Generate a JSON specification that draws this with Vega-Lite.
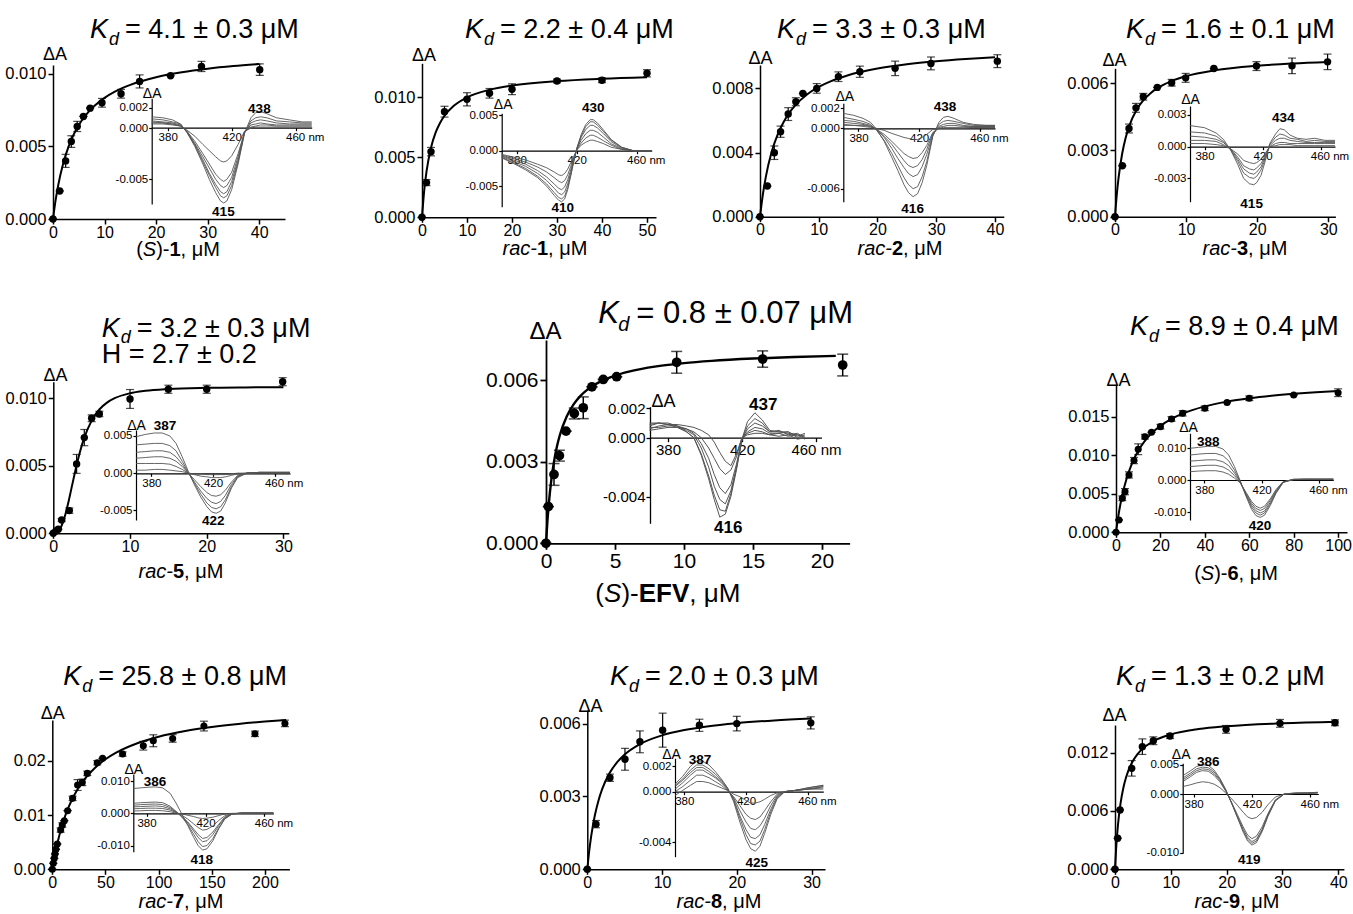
{
"$schema": "https://vega.github.io/schema/vega-lite/v6.json",
"width": 1353, "height": 914, "autosize": {"type": "none"}, "padding": 0, "background": "white",
"config": {
 "view": {"stroke": null},
 "font": "Liberation Sans",
 "text": {"color": "black"},
 "axis": {"grid": false, "domainColor": "black", "tickColor": "black", "labelColor": "black", "titleColor": "black", "titleFontWeight": "normal", "labelFlush": false, "labelOverlap": false, "labelBound": false, "titleAlign": "center", "titleBaseline": "alphabetic"},
 "locale": {"number": {"decimal": ".", "thousands": ",", "grouping": [3], "currency": ["$", ""], "minus": "-"}}
},
"datasets": {
 "c1": [{"x":0,"y":0},{"x":0.5,"y":0.001278},{"x":1,"y":0.002306},{"x":2,"y":0.003856},{"x":3,"y":0.004969},{"x":4,"y":0.005807},{"x":5,"y":0.006462},{"x":6,"y":0.006986},{"x":8,"y":0.007775},{"x":10,"y":0.00834},{"x":12,"y":0.008765},{"x":15,"y":0.009236},{"x":20,"y":0.00976},{"x":25,"y":0.010103},{"x":30,"y":0.010346},{"x":35,"y":0.010527},{"x":40,"y":0.010667}],
 "c2": [{"x":0,"y":0},{"x":0.5,"y":0.002256},{"x":1,"y":0.003806},{"x":2,"y":0.0058},{"x":3,"y":0.007027},{"x":4,"y":0.007858},{"x":5,"y":0.008458},{"x":7,"y":0.009267},{"x":10,"y":0.009984},{"x":15,"y":0.010622},{"x":20,"y":0.010973},{"x":30,"y":0.011348},{"x":40,"y":0.011545},{"x":50,"y":0.011667}],
 "c3": [{"x":0,"y":0},{"x":0.5,"y":0.001416},{"x":1,"y":0.002502},{"x":2,"y":0.004061},{"x":3,"y":0.005124},{"x":4,"y":0.005896},{"x":5,"y":0.006482},{"x":6,"y":0.006942},{"x":8,"y":0.007618},{"x":10,"y":0.00809},{"x":12,"y":0.008439},{"x":15,"y":0.00882},{"x":20,"y":0.009236},{"x":25,"y":0.009505},{"x":30,"y":0.009694},{"x":35,"y":0.009833},{"x":40,"y":0.00994}],
 "c4": [{"x":0,"y":0},{"x":0.25,"y":0.000992},{"x":0.5,"y":0.001748},{"x":1,"y":0.002823},{"x":1.5,"y":0.003552},{"x":2,"y":0.004078},{"x":3,"y":0.004787},{"x":4,"y":0.005243},{"x":5,"y":0.005561},{"x":6,"y":0.005795},{"x":8,"y":0.006117},{"x":10,"y":0.006328},{"x":14,"y":0.006587},{"x":20,"y":0.006796},{"x":25,"y":0.006898},{"x":30,"y":0.006969}],
 "c5": [{"x":0,"y":0},{"x":0.5,"y":0.000072},{"x":1,"y":0.00045},{"x":1.5,"y":0.001242},{"x":2,"y":0.00238},{"x":2.5,"y":0.00368},{"x":3,"y":0.004953},{"x":3.5,"y":0.006077},{"x":4,"y":0.007011},{"x":5,"y":0.008348},{"x":6,"y":0.009171},{"x":7,"y":0.00968},{"x":8,"y":0.010007},{"x":10,"y":0.010372},{"x":12,"y":0.010553},{"x":15,"y":0.010685},{"x":20,"y":0.010774},{"x":25,"y":0.010808},{"x":30,"y":0.010824}],
 "c6": [{"x":0,"y":0},{"x":0.1,"y":0.000794},{"x":0.2,"y":0.00143},{"x":0.4,"y":0.002383},{"x":0.6,"y":0.003064},{"x":0.8,"y":0.003575},{"x":1,"y":0.003972},{"x":1.5,"y":0.004663},{"x":2,"y":0.005107},{"x":2.5,"y":0.005417},{"x":3,"y":0.005645},{"x":4,"y":0.005958},{"x":5,"y":0.006164},{"x":6,"y":0.006309},{"x":8,"y":0.0065},{"x":10,"y":0.00662},{"x":12,"y":0.006703},{"x":15,"y":0.006788},{"x":18,"y":0.006846},{"x":21,"y":0.006888}],
 "c7": [{"x":0,"y":0},{"x":1,"y":0.002016},{"x":2,"y":0.003662},{"x":3,"y":0.005032},{"x":5,"y":0.00718},{"x":7,"y":0.008788},{"x":10,"y":0.010561},{"x":13,"y":0.011848},{"x":16,"y":0.012826},{"x":20,"y":0.013813},{"x":25,"y":0.01472},{"x":30,"y":0.015393},{"x":40,"y":0.016327},{"x":50,"y":0.016944},{"x":60,"y":0.017381},{"x":70,"y":0.017709},{"x":80,"y":0.017962},{"x":90,"y":0.018164},{"x":100,"y":0.018329}],
 "c8": [{"x":0,"y":0},{"x":2,"y":0.002214},{"x":5,"y":0.004995},{"x":10,"y":0.008595},{"x":15,"y":0.011312},{"x":20,"y":0.013437},{"x":25,"y":0.015143},{"x":30,"y":0.016543},{"x":40,"y":0.018705},{"x":50,"y":0.020297},{"x":60,"y":0.021518},{"x":80,"y":0.023266},{"x":100,"y":0.024459},{"x":125,"y":0.025506},{"x":150,"y":0.026253},{"x":175,"y":0.026816},{"x":200,"y":0.027254},{"x":220,"y":0.02754}],
 "c9": [{"x":0,"y":0},{"x":0.25,"y":0.000736},{"x":0.5,"y":0.001324},{"x":1,"y":0.002207},{"x":1.5,"y":0.002837},{"x":2,"y":0.00331},{"x":3,"y":0.003972},{"x":4,"y":0.004413},{"x":5,"y":0.004729},{"x":7,"y":0.005149},{"x":10,"y":0.005517},{"x":13,"y":0.005737},{"x":16,"y":0.005884},{"x":20,"y":0.006018},{"x":25,"y":0.00613},{"x":30,"y":0.006206}],
 "c10": [{"x":0,"y":0},{"x":0.2,"y":0.00209},{"x":0.4,"y":0.00369},{"x":0.7,"y":0.005488},{"x":1,"y":0.006817},{"x":1.5,"y":0.0084},{"x":2,"y":0.009504},{"x":3,"y":0.01094},{"x":4,"y":0.011834},{"x":5,"y":0.012445},{"x":7,"y":0.013224},{"x":10,"y":0.013877},{"x":15,"y":0.014429},{"x":20,"y":0.014723},{"x":30,"y":0.015029},{"x":40,"y":0.015186}],
 "m1": [{"x":0,"y":0,"e":0},{"x":1.3,"y":0.00193,"e":0},{"x":2.45,"y":0.004,"e":0.00045},{"x":3.55,"y":0.00533,"e":0.0004},{"x":4.7,"y":0.00637,"e":0.00035},{"x":5.9,"y":0.00706,"e":0},{"x":7.2,"y":0.00763,"e":0},{"x":9.5,"y":0.008,"e":0.0003},{"x":13.2,"y":0.00862,"e":0.0003},{"x":16.8,"y":0.00947,"e":0.00045},{"x":22.8,"y":0.00986,"e":0},{"x":28.8,"y":0.0105,"e":0.00035},{"x":40.1,"y":0.01028,"e":0.0004}],
 "m2": [{"x":0,"y":0,"e":0},{"x":1,"y":0.00289,"e":0.00025},{"x":2,"y":0.00547,"e":0.00035},{"x":5,"y":0.0088,"e":0.00045},{"x":10,"y":0.00983,"e":0.00055},{"x":15,"y":0.01033,"e":0.0004},{"x":20,"y":0.01067,"e":0.00045},{"x":30,"y":0.01136,"e":0.00015},{"x":40,"y":0.01142,"e":0.0002},{"x":50,"y":0.012,"e":0.0003}],
 "m3": [{"x":0,"y":0,"e":0},{"x":1.25,"y":0.00191,"e":0},{"x":2.44,"y":0.00399,"e":0.00042},{"x":3.5,"y":0.0053,"e":0.00035},{"x":4.8,"y":0.0064,"e":0.0004},{"x":6.1,"y":0.00717,"e":0.00025},{"x":7.3,"y":0.00769,"e":0},{"x":9.66,"y":0.008,"e":0.0003},{"x":13.35,"y":0.00873,"e":0.0003},{"x":17,"y":0.00904,"e":0.00035},{"x":23,"y":0.00925,"e":0.00045},{"x":29.1,"y":0.00956,"e":0.0004},{"x":40.4,"y":0.0097,"e":0.0004}],
 "m4": [{"x":0,"y":0,"e":0},{"x":1.03,"y":0.00229,"e":0},{"x":1.97,"y":0.00397,"e":0.0002},{"x":2.95,"y":0.0049,"e":0.0002},{"x":3.98,"y":0.0054,"e":0.00015},{"x":5.95,"y":0.00582,"e":0},{"x":7.97,"y":0.00603,"e":0.00015},{"x":9.94,"y":0.00625,"e":0.0002},{"x":13.9,"y":0.00667,"e":0},{"x":19.9,"y":0.00678,"e":0.0002},{"x":24.9,"y":0.00679,"e":0.00035},{"x":29.9,"y":0.00697,"e":0.00035}],
 "m5": [{"x":0,"y":0,"e":0},{"x":0.35,"y":0.00017,"e":0},{"x":0.65,"y":0.0003,"e":0},{"x":1.09,"y":0.00099,"e":0.0001},{"x":2.09,"y":0.00168,"e":0.0002},{"x":3.04,"y":0.00514,"e":0.0007},{"x":4.04,"y":0.00709,"e":0.0006},{"x":5,"y":0.00852,"e":0.00025},{"x":6,"y":0.00884,"e":0.0002},{"x":10,"y":0.00995,"e":0.0007},{"x":15,"y":0.01067,"e":0.0003},{"x":20,"y":0.01067,"e":0.0003},{"x":29.9,"y":0.01123,"e":0.0003}],
 "m6": [{"x":0,"y":0,"e":0},{"x":0.17,"y":0.00135,"e":0},{"x":0.58,"y":0.00253,"e":0.0004},{"x":0.97,"y":0.00322,"e":0.0002},{"x":1.45,"y":0.00412,"e":0},{"x":2.05,"y":0.00477,"e":0.0002},{"x":2.7,"y":0.00498,"e":0.0004},{"x":3.33,"y":0.00575,"e":0},{"x":4.15,"y":0.00602,"e":0},{"x":5.12,"y":0.00612,"e":0},{"x":9.47,"y":0.00665,"e":0.0004},{"x":15.7,"y":0.00677,"e":0.0003},{"x":21.5,"y":0.00655,"e":0.0004}],
 "m7": [{"x":0,"y":0,"e":0},{"x":1.35,"y":0.0016,"e":0},{"x":2.85,"y":0.00441,"e":0.0003},{"x":4.05,"y":0.00527,"e":0.0004},{"x":5.85,"y":0.00744,"e":0.0004},{"x":8.1,"y":0.0093,"e":0.0004},{"x":10,"y":0.01077,"e":0.0007},{"x":13,"y":0.0124,"e":0.0003},{"x":16,"y":0.01297,"e":0},{"x":20,"y":0.0137,"e":0.0003},{"x":25,"y":0.0147,"e":0.0003},{"x":30,"y":0.01543,"e":0.00035},{"x":40,"y":0.01608,"e":0.0003},{"x":50,"y":0.01682,"e":0},{"x":60,"y":0.01738,"e":0.0003},{"x":80,"y":0.01781,"e":0},{"x":100,"y":0.0181,"e":0.0005}],
 "m8": [{"x":0,"y":0,"e":0},{"x":0.94,"y":0.00111,"e":0},{"x":1.88,"y":0.00203,"e":0},{"x":2.5,"y":0.00283,"e":0},{"x":3.45,"y":0.00369,"e":0},{"x":4.7,"y":0.00467,"e":0},{"x":7.84,"y":0.00725,"e":0.0004},{"x":9.4,"y":0.00817,"e":0.0004},{"x":11.3,"y":0.00897,"e":0},{"x":14.4,"y":0.01082,"e":0},{"x":19.1,"y":0.01309,"e":0.0004},{"x":23.8,"y":0.01555,"e":0.001},{"x":28.2,"y":0.01604,"e":0.0006},{"x":32.9,"y":0.0177,"e":0.0004},{"x":42.3,"y":0.01967,"e":0.0004},{"x":47.3,"y":0.02047,"e":0},{"x":66.1,"y":0.02127,"e":0.0004},{"x":85.6,"y":0.0228,"e":0.0008},{"x":95,"y":0.02372,"e":0.0011},{"x":113.2,"y":0.02415,"e":0.0007},{"x":142.6,"y":0.02643,"e":0.0009},{"x":190.6,"y":0.025,"e":0.0005},{"x":218.8,"y":0.02692,"e":0.0006}],
 "m9": [{"x":0,"y":0,"e":0},{"x":1.16,"y":0.00186,"e":0.00015},{"x":3.03,"y":0.00377,"e":0.00015},{"x":5.04,"y":0.00453,"e":0.00045},{"x":7.04,"y":0.00525,"e":0.00045},{"x":10.08,"y":0.00573,"e":0.0007},{"x":15,"y":0.00593,"e":0.00025},{"x":20,"y":0.006,"e":0.0003},{"x":29.9,"y":0.00603,"e":0.00025}],
 "m10": [{"x":0,"y":0,"e":0},{"x":0.48,"y":0.00319,"e":0},{"x":0.9,"y":0.0061,"e":0},{"x":2.99,"y":0.01039,"e":0.0008},{"x":4.9,"y":0.01262,"e":0.0008},{"x":6.87,"y":0.01323,"e":0.0004},{"x":9.85,"y":0.01371,"e":0.00025},{"x":19.9,"y":0.0144,"e":0.0004},{"x":29.55,"y":0.01502,"e":0.0004},{"x":39.4,"y":0.01508,"e":0.0003}],
 "s1": [
  {"w":370,"a":0.0011,"b":0.0009,"c":0.0007,"d":0.0006,"e":0.0005,"f":0.0004},
  {"w":377,"a":0.001,"b":0.0008,"c":0.0006,"d":0.0005,"e":0.0005,"f":0.0004},
  {"w":383,"a":0.0008,"b":0.0006,"c":0.0005,"d":0.0004,"e":0.0004,"f":0.0003},
  {"w":388,"a":0.0004,"b":0.0004,"c":0.0003,"d":0.0002,"e":0.0002,"f":0.0002},
  {"w":392,"a":-0.0004,"b":-0.0004,"c":-0.0004,"d":-0.0003,"e":-0.0003,"f":-0.0002},
  {"w":397,"a":-0.0018,"b":-0.0017,"c":-0.0016,"d":-0.0015,"e":-0.0013,"f":-0.0008},
  {"w":402,"a":-0.0035,"b":-0.0033,"c":-0.0031,"d":-0.0028,"e":-0.0025,"f":-0.0016},
  {"w":406,"a":-0.005,"b":-0.0046,"c":-0.0044,"d":-0.0039,"e":-0.0035,"f":-0.0022},
  {"w":410,"a":-0.0063,"b":-0.0058,"c":-0.0055,"d":-0.005,"e":-0.0045,"f":-0.0028},
  {"w":413,"a":-0.0071,"b":-0.0066,"c":-0.0062,"d":-0.0056,"e":-0.005,"f":-0.0032},
  {"w":415,"a":-0.0073,"b":-0.0068,"c":-0.0064,"d":-0.0058,"e":-0.0052,"f":-0.0033},
  {"w":417,"a":-0.0071,"b":-0.0066,"c":-0.0062,"d":-0.0056,"e":-0.005,"f":-0.0032},
  {"w":420,"a":-0.006,"b":-0.0056,"c":-0.0052,"d":-0.0048,"e":-0.0043,"f":-0.0027},
  {"w":424,"a":-0.0035,"b":-0.0033,"c":-0.0031,"d":-0.0028,"e":-0.0025,"f":-0.0016},
  {"w":428,"a":-0.0005,"b":-0.0005,"c":-0.0004,"d":-0.0004,"e":-0.0004,"f":-0.0003},
  {"w":432,"a":0.001,"b":0.0007,"c":0.0005,"d":0.0003,"e":0.0001,"f":0},
  {"w":435,"a":0.0015,"b":0.001,"c":0.0007,"d":0.0004,"e":0.0002,"f":0.0001},
  {"w":438,"a":0.0016,"b":0.0011,"c":0.0008,"d":0.0005,"e":0.0003,"f":0.0001},
  {"w":442,"a":0.0014,"b":0.001,"c":0.0007,"d":0.0004,"e":0.0003,"f":0.0001},
  {"w":448,"a":0.001,"b":0.0007,"c":0.0005,"d":0.0003,"e":0.0002,"f":0.0001},
  {"w":456,"a":0.0008,"b":0.0006,"c":0.0004,"d":0.0003,"e":0.0002,"f":0.0001},
  {"w":464,"a":0.0006,"b":0.0005,"c":0.0004,"d":0.0003,"e":0.0002,"f":0.0001},
  {"w":470,"a":0.0006,"b":0.0005,"c":0.0004,"d":0.0003,"e":0.0002,"f":0.0001}],
 "s2": [
  {"w":370,"a":-0.001,"b":-0.0009,"c":-0.0008,"d":-0.0007,"e":-0.0006,"f":-0.0005},
  {"w":378,"a":-0.0018,"b":-0.0017,"c":-0.0015,"d":-0.0013,"e":-0.0011,"f":-0.0009},
  {"w":386,"a":-0.0027,"b":-0.0025,"c":-0.0022,"d":-0.0019,"e":-0.0016,"f":-0.0013},
  {"w":394,"a":-0.0038,"b":-0.0036,"c":-0.0032,"d":-0.0028,"e":-0.0023,"f":-0.0019},
  {"w":400,"a":-0.005,"b":-0.0047,"c":-0.0042,"d":-0.0037,"e":-0.003,"f":-0.0024},
  {"w":405,"a":-0.0063,"b":-0.0059,"c":-0.0053,"d":-0.0047,"e":-0.0038,"f":-0.003},
  {"w":408,"a":-0.007,"b":-0.0066,"c":-0.006,"d":-0.0053,"e":-0.0043,"f":-0.0034},
  {"w":410,"a":-0.0072,"b":-0.0068,"c":-0.0062,"d":-0.0055,"e":-0.0045,"f":-0.0035},
  {"w":412,"a":-0.0068,"b":-0.0064,"c":-0.0058,"d":-0.0051,"e":-0.0042,"f":-0.0032},
  {"w":414,"a":-0.0055,"b":-0.0052,"c":-0.0047,"d":-0.0041,"e":-0.0034,"f":-0.0026},
  {"w":416,"a":-0.0036,"b":-0.0034,"c":-0.0031,"d":-0.0027,"e":-0.0022,"f":-0.0017},
  {"w":418,"a":-0.0016,"b":-0.0015,"c":-0.0014,"d":-0.0012,"e":-0.001,"f":-0.0008},
  {"w":420,"a":0.0003,"b":0.0003,"c":0.0002,"d":0.0002,"e":0.0001,"f":0.0001},
  {"w":423,"a":0.0023,"b":0.0021,"c":0.0019,"d":0.0015,"e":0.0011,"f":0.0008},
  {"w":426,"a":0.0037,"b":0.0034,"c":0.003,"d":0.0024,"e":0.0018,"f":0.0012},
  {"w":429,"a":0.0044,"b":0.0041,"c":0.0036,"d":0.0029,"e":0.0022,"f":0.0015},
  {"w":431,"a":0.0044,"b":0.0041,"c":0.0036,"d":0.0029,"e":0.0022,"f":0.0015},
  {"w":434,"a":0.0039,"b":0.0036,"c":0.0032,"d":0.0026,"e":0.0019,"f":0.0013},
  {"w":438,"a":0.0029,"b":0.0027,"c":0.0024,"d":0.0019,"e":0.0014,"f":0.001},
  {"w":443,"a":0.0016,"b":0.0015,"c":0.0013,"d":0.001,"e":0.0008,"f":0.0005},
  {"w":450,"a":0.0005,"b":0.0005,"c":0.0004,"d":0.0003,"e":0.0002,"f":0.0002},
  {"w":458,"a":0,"b":0,"c":0,"d":0,"e":0,"f":0},
  {"w":470,"a":0,"b":0,"c":0,"d":0,"e":0,"f":0}],
 "s3": [
  {"w":370,"a":0.0015,"b":0.0011,"c":0.0008,"d":0.0006,"e":0.0004,"f":0.0003},
  {"w":377,"a":0.0013,"b":0.0009,"c":0.0007,"d":0.0005,"e":0.0003,"f":0.0003},
  {"w":383,"a":0.001,"b":0.0007,"c":0.0005,"d":0.0004,"e":0.0003,"f":0.0002},
  {"w":388,"a":0.0006,"b":0.0004,"c":0.0003,"d":0.0002,"e":0.0002,"f":0.0001},
  {"w":392,"a":-0.0001,"b":-0.0002,"c":-0.0001,"d":-0.0001,"e":-0.0001,"f":0},
  {"w":397,"a":-0.0013,"b":-0.0012,"c":-0.0009,"d":-0.0008,"e":-0.0006,"f":-0.0002},
  {"w":402,"a":-0.0029,"b":-0.0025,"c":-0.002,"d":-0.0016,"e":-0.0013,"f":-0.0005},
  {"w":406,"a":-0.0042,"b":-0.0037,"c":-0.003,"d":-0.0024,"e":-0.0019,"f":-0.0007},
  {"w":410,"a":-0.0056,"b":-0.0049,"c":-0.0039,"d":-0.0032,"e":-0.0025,"f":-0.0009},
  {"w":413,"a":-0.0064,"b":-0.0056,"c":-0.0045,"d":-0.0037,"e":-0.0028,"f":-0.001},
  {"w":416,"a":-0.0068,"b":-0.006,"c":-0.0048,"d":-0.0039,"e":-0.003,"f":-0.0011},
  {"w":419,"a":-0.0065,"b":-0.0058,"c":-0.0046,"d":-0.0037,"e":-0.0029,"f":-0.0011},
  {"w":422,"a":-0.0054,"b":-0.0048,"c":-0.0038,"d":-0.0031,"e":-0.0024,"f":-0.0009},
  {"w":425,"a":-0.0037,"b":-0.0033,"c":-0.0026,"d":-0.0021,"e":-0.0017,"f":-0.0006},
  {"w":429,"a":-0.0008,"b":-0.0007,"c":-0.0006,"d":-0.0005,"e":-0.0004,"f":-0.0001},
  {"w":433,"a":0.0006,"b":0.0004,"c":0.0002,"d":0.0001,"e":0,"f":0},
  {"w":436,"a":0.0011,"b":0.0007,"c":0.0004,"d":0.0002,"e":0.0001,"f":0},
  {"w":439,"a":0.0012,"b":0.0008,"c":0.0005,"d":0.0003,"e":0.0001,"f":0},
  {"w":443,"a":0.001,"b":0.0007,"c":0.0005,"d":0.0003,"e":0.0001,"f":0},
  {"w":449,"a":0.0006,"b":0.0005,"c":0.0003,"d":0.0002,"e":0.0001,"f":0},
  {"w":456,"a":0.0004,"b":0.0003,"c":0.0002,"d":0.0002,"e":0.0001,"f":0.0001},
  {"w":464,"a":0.0003,"b":0.0003,"c":0.0002,"d":0.0002,"e":0.0001,"f":0.0001},
  {"w":470,"a":0.0003,"b":0.0003,"c":0.0002,"d":0.0002,"e":0.0001,"f":0.0001}],
 "s4": [
  {"w":370,"a":0.002,"b":0.0014,"c":0.001,"d":0.0006,"e":0.0003},
  {"w":380,"a":0.0018,"b":0.0013,"c":0.0009,"d":0.0006,"e":0.0003},
  {"w":388,"a":0.0013,"b":0.001,"c":0.0007,"d":0.0005,"e":0.0002},
  {"w":393,"a":0.0007,"b":0.0005,"c":0.0004,"d":0.0002,"e":0.0001},
  {"w":398,"a":-0.0003,"b":-0.0003,"c":-0.0002,"d":-0.0002,"e":-0.0002},
  {"w":403,"a":-0.0017,"b":-0.0014,"c":-0.0012,"d":-0.001,"e":-0.0007},
  {"w":407,"a":-0.003,"b":-0.0025,"c":-0.0021,"d":-0.0018,"e":-0.0013},
  {"w":411,"a":-0.0035,"b":-0.0029,"c":-0.0025,"d":-0.0021,"e":-0.0015},
  {"w":414,"a":-0.0036,"b":-0.003,"c":-0.0026,"d":-0.0022,"e":-0.0016},
  {"w":416,"a":-0.0034,"b":-0.0028,"c":-0.0024,"d":-0.002,"e":-0.0015},
  {"w":419,"a":-0.0027,"b":-0.0022,"c":-0.0019,"d":-0.0016,"e":-0.0012},
  {"w":422,"a":-0.0013,"b":-0.0011,"c":-0.0009,"d":-0.0008,"e":-0.0006},
  {"w":425,"a":0.0003,"b":0.0002,"c":0.0001,"d":0,"e":0},
  {"w":429,"a":0.0012,"b":0.0009,"c":0.0006,"d":0.0003,"e":0.0001},
  {"w":432,"a":0.0017,"b":0.0012,"c":0.0008,"d":0.0004,"e":0.0002},
  {"w":435,"a":0.0016,"b":0.0011,"c":0.0008,"d":0.0004,"e":0.0002},
  {"w":439,"a":0.0011,"b":0.0008,"c":0.0006,"d":0.0003,"e":0.0002},
  {"w":444,"a":0.0008,"b":0.0007,"c":0.0005,"d":0.0003,"e":0.0001},
  {"w":450,"a":0.0007,"b":0.0005,"c":0.0004,"d":0.0003,"e":0.0001},
  {"w":456,"a":0.0008,"b":0.0006,"c":0.0004,"d":0.0003,"e":0.0001},
  {"w":463,"a":0.0006,"b":0.0005,"c":0.0004,"d":0.0003,"e":0.0001},
  {"w":470,"a":0.0006,"b":0.0005,"c":0.0004,"d":0.0003,"e":0.0001}],
 "s5": [
  {"w":370,"a":0.0049,"b":0.0038,"c":0.0028,"d":0.002,"e":0.0013,"f":0.0004},
  {"w":376,"a":0.0052,"b":0.0039,"c":0.0029,"d":0.0021,"e":0.0013,"f":0.0004},
  {"w":382,"a":0.0054,"b":0.004,"c":0.003,"d":0.0022,"e":0.0013,"f":0.0005},
  {"w":387,"a":0.0054,"b":0.004,"c":0.003,"d":0.0022,"e":0.0013,"f":0.0005},
  {"w":392,"a":0.005,"b":0.0037,"c":0.0028,"d":0.002,"e":0.0012,"f":0.0004},
  {"w":396,"a":0.004,"b":0.003,"c":0.0022,"d":0.0016,"e":0.0009,"f":0.0003},
  {"w":400,"a":0.0022,"b":0.0016,"c":0.0012,"d":0.0009,"e":0.0005,"f":0.0002},
  {"w":404,"a":0.0002,"b":0.0001,"c":0,"d":0,"e":0,"f":0},
  {"w":408,"a":-0.0016,"b":-0.0014,"c":-0.0012,"d":-0.0009,"e":-0.0002,"f":-0.0001},
  {"w":412,"a":-0.0032,"b":-0.0028,"c":-0.0024,"d":-0.0018,"e":-0.0004,"f":-0.0001},
  {"w":416,"a":-0.0045,"b":-0.004,"c":-0.0034,"d":-0.0026,"e":-0.0005,"f":-0.0002},
  {"w":419,"a":-0.0052,"b":-0.0046,"c":-0.0039,"d":-0.003,"e":-0.0006,"f":-0.0002},
  {"w":422,"a":-0.0054,"b":-0.0048,"c":-0.0041,"d":-0.0031,"e":-0.0006,"f":-0.0002},
  {"w":425,"a":-0.0051,"b":-0.0045,"c":-0.0038,"d":-0.0029,"e":-0.0006,"f":-0.0002},
  {"w":428,"a":-0.004,"b":-0.0036,"c":-0.003,"d":-0.0023,"e":-0.0005,"f":-0.0002},
  {"w":432,"a":-0.002,"b":-0.0018,"c":-0.0015,"d":-0.0012,"e":-0.0003,"f":-0.0001},
  {"w":436,"a":-0.0006,"b":-0.0005,"c":-0.0004,"d":-0.0003,"e":-0.0001,"f":0},
  {"w":442,"a":0,"b":0,"c":0,"d":0,"e":0,"f":0},
  {"w":450,"a":0.0001,"b":0.0001,"c":0.0001,"d":0.0001,"e":0.0001,"f":0},
  {"w":460,"a":0.0001,"b":0.0001,"c":0.0001,"d":0.0001,"e":0.0001,"f":0},
  {"w":470,"a":0.0001,"b":0.0001,"c":0.0001,"d":0.0001,"e":0.0001,"f":0}],
 "s6": [
  {"w":370,"a":0.0008,"b":0.0009,"c":0.0006,"d":0.0007,"e":0.0005,"f":0.001},
  {"w":375,"a":0.001,"b":0.001,"c":0.0008,"d":0.0007,"e":0.0006,"f":0.001},
  {"w":380,"a":0.001,"b":0.0009,"c":0.0009,"d":0.0008,"e":0.0007,"f":0.0009},
  {"w":385,"a":0.0008,"b":0.0007,"c":0.0008,"d":0.0008,"e":0.0007,"f":0.0009},
  {"w":390,"a":0.0004,"b":0.0004,"c":0.0005,"d":0.0006,"e":0.0006,"f":0.0008},
  {"w":394,"a":0,"b":0,"c":0.0002,"d":0.0003,"e":0.0004,"f":0.0007},
  {"w":398,"a":-0.0012,"b":-0.0011,"c":-0.0007,"d":-0.0004,"e":0,"f":0.0005},
  {"w":402,"a":-0.0028,"b":-0.0026,"c":-0.002,"d":-0.0014,"e":-0.0007,"f":0.0002},
  {"w":405,"a":-0.0042,"b":-0.0039,"c":-0.0033,"d":-0.0025,"e":-0.0014,"f":-0.0003},
  {"w":408,"a":-0.0054,"b":-0.0049,"c":-0.0042,"d":-0.0034,"e":-0.0021,"f":-0.001},
  {"w":411,"a":-0.0052,"b":-0.005,"c":-0.0045,"d":-0.0038,"e":-0.0025,"f":-0.0016},
  {"w":414,"a":-0.004,"b":-0.0038,"c":-0.0036,"d":-0.0032,"e":-0.0022,"f":-0.0019},
  {"w":417,"a":-0.0022,"b":-0.0021,"c":-0.002,"d":-0.0018,"e":-0.0013,"f":-0.0011},
  {"w":420,"a":-0.0001,"b":-0.0001,"c":-0.0001,"d":-0.0001,"e":0,"f":0},
  {"w":423,"a":0.0011,"b":0.0008,"c":0.0006,"d":0.0004,"e":0.0003,"f":0.0002},
  {"w":427,"a":0.0017,"b":0.0013,"c":0.001,"d":0.0007,"e":0.0005,"f":0.0003},
  {"w":431,"a":0.0012,"b":0.001,"c":0.0008,"d":0.0006,"e":0.0004,"f":0.0003},
  {"w":435,"a":0.0005,"b":0.0004,"c":0.0004,"d":0.0003,"e":0.0002,"f":0.0002},
  {"w":440,"a":0.0004,"b":0.0004,"c":0.0005,"d":0.0003,"e":0.0003,"f":0.0001},
  {"w":445,"a":0.0003,"b":0.0004,"c":0.0002,"d":0.0004,"e":0.0001,"f":0.0002},
  {"w":450,"a":0.0002,"b":0.0001,"c":0.0003,"d":0,"e":0.0002,"f":-0.0001},
  {"w":454,"a":0.0001,"b":0.0003,"c":0,"d":0.0002,"e":-0.0001,"f":0}],
 "s7": [
  {"w":370,"a":0.0099,"b":0.0078,"c":0.0059,"d":0.0042,"e":0.0026},
  {"w":376,"a":0.0102,"b":0.0081,"c":0.0061,"d":0.0044,"e":0.0028},
  {"w":382,"a":0.0105,"b":0.0083,"c":0.0063,"d":0.0046,"e":0.0029},
  {"w":388,"a":0.0105,"b":0.0083,"c":0.0063,"d":0.0046,"e":0.0029},
  {"w":393,"a":0.0097,"b":0.0076,"c":0.0057,"d":0.0041,"e":0.0025},
  {"w":397,"a":0.0078,"b":0.006,"c":0.0045,"d":0.0031,"e":0.0018},
  {"w":401,"a":0.0042,"b":0.0031,"c":0.0022,"d":0.0014,"e":0.0006},
  {"w":405,"a":-0.0002,"b":-0.0004,"c":-0.0005,"d":-0.0007,"e":-0.0009},
  {"w":409,"a":-0.005,"b":-0.0047,"c":-0.0044,"d":-0.0041,"e":-0.0038},
  {"w":413,"a":-0.0092,"b":-0.0085,"c":-0.0079,"d":-0.0073,"e":-0.0067},
  {"w":416,"a":-0.0111,"b":-0.0103,"c":-0.0096,"d":-0.0089,"e":-0.0082},
  {"w":419,"a":-0.0117,"b":-0.011,"c":-0.0103,"d":-0.0095,"e":-0.0088},
  {"w":422,"a":-0.011,"b":-0.0103,"c":-0.0097,"d":-0.0089,"e":-0.0082},
  {"w":426,"a":-0.008,"b":-0.0075,"c":-0.007,"d":-0.0064,"e":-0.0059},
  {"w":430,"a":-0.0042,"b":-0.0039,"c":-0.0036,"d":-0.0033,"e":-0.003},
  {"w":435,"a":-0.0008,"b":-0.0007,"c":-0.0006,"d":-0.0006,"e":-0.0005},
  {"w":442,"a":0.0002,"b":0.0002,"c":0.0002,"d":0.0001,"e":0.0001},
  {"w":450,"a":0.0003,"b":0.0003,"c":0.0002,"d":0.0002,"e":0.0001},
  {"w":460,"a":0.0003,"b":0.0003,"c":0.0002,"d":0.0002,"e":0.0001},
  {"w":470,"a":0.0003,"b":0.0003,"c":0.0002,"d":0.0002,"e":0.0001}],
 "s8": [
  {"w":371,"a":0.0077,"b":0.0031,"c":0.0025,"d":0.002,"e":0.0014,"f":0.0007},
  {"w":376,"a":0.0079,"b":0.0033,"c":0.0027,"d":0.0021,"e":0.0015,"f":0.0008},
  {"w":381,"a":0.0081,"b":0.0034,"c":0.0028,"d":0.0022,"e":0.0016,"f":0.0009},
  {"w":386,"a":0.0082,"b":0.0035,"c":0.0029,"d":0.0023,"e":0.0016,"f":0.0009},
  {"w":391,"a":0.0079,"b":0.0033,"c":0.0027,"d":0.0021,"e":0.0015,"f":0.0008},
  {"w":396,"a":0.0062,"b":0.0022,"c":0.0018,"d":0.0014,"e":0.001,"f":0.0005},
  {"w":400,"a":0.0032,"b":0.0006,"c":0.0005,"d":0.0004,"e":0.0003,"f":0.0001},
  {"w":404,"a":-0.0003,"b":-0.0012,"c":-0.001,"d":-0.0009,"e":-0.0006,"f":-0.0002},
  {"w":408,"a":-0.0038,"b":-0.0035,"c":-0.003,"d":-0.0027,"e":-0.0018,"f":-0.0006},
  {"w":412,"a":-0.0075,"b":-0.0065,"c":-0.0055,"d":-0.0049,"e":-0.0033,"f":-0.001},
  {"w":415,"a":-0.01,"b":-0.0088,"c":-0.0075,"d":-0.0066,"e":-0.0044,"f":-0.0014},
  {"w":418,"a":-0.0114,"b":-0.0103,"c":-0.0088,"d":-0.0078,"e":-0.0052,"f":-0.0016},
  {"w":421,"a":-0.011,"b":-0.01,"c":-0.0085,"d":-0.0075,"e":-0.005,"f":-0.0015},
  {"w":425,"a":-0.0085,"b":-0.0078,"c":-0.0066,"d":-0.0058,"e":-0.0039,"f":-0.0012},
  {"w":429,"a":-0.0048,"b":-0.0045,"c":-0.0038,"d":-0.0034,"e":-0.0022,"f":-0.0007},
  {"w":433,"a":-0.0018,"b":-0.0017,"c":-0.0014,"d":-0.0012,"e":-0.0008,"f":-0.0002},
  {"w":438,"a":-0.0002,"b":-0.0002,"c":-0.0002,"d":-0.0001,"e":-0.0001,"f":0},
  {"w":445,"a":0.0001,"b":0.0001,"c":0.0001,"d":0.0001,"e":0,"f":0},
  {"w":455,"a":0.0001,"b":0.0001,"c":0.0001,"d":0.0001,"e":0,"f":0},
  {"w":466,"a":0.0001,"b":0.0001,"c":0.0001,"d":0.0001,"e":0,"f":0}],
 "s9": [
  {"w":374,"a":0.0006,"b":0.0005,"c":0.0004,"d":0.0002,"e":0,"f":-0.0003},
  {"w":379,"a":0.0012,"b":0.001,"c":0.0009,"d":0.0007,"e":0.0004,"f":0.0001},
  {"w":384,"a":0.002,"b":0.0017,"c":0.0015,"d":0.0013,"e":0.0009,"f":0.0005},
  {"w":388,"a":0.0024,"b":0.0021,"c":0.0019,"d":0.0017,"e":0.0013,"f":0.0008},
  {"w":392,"a":0.0024,"b":0.0021,"c":0.0019,"d":0.0017,"e":0.0013,"f":0.0008},
  {"w":396,"a":0.0021,"b":0.0018,"c":0.0016,"d":0.0014,"e":0.0011,"f":0.0007},
  {"w":400,"a":0.0016,"b":0.0014,"c":0.0012,"d":0.0011,"e":0.0008,"f":0.0005},
  {"w":404,"a":0.001,"b":0.0009,"c":0.0008,"d":0.0007,"e":0.0005,"f":0.0003},
  {"w":408,"a":0.0003,"b":0.0003,"c":0.0002,"d":0.0002,"e":0.0001,"f":0.0001},
  {"w":412,"a":-0.0008,"b":-0.0007,"c":-0.0006,"d":-0.0005,"e":-0.0004,"f":-0.0002},
  {"w":416,"a":-0.0024,"b":-0.0021,"c":-0.0019,"d":-0.0015,"e":-0.0011,"f":-0.0004},
  {"w":420,"a":-0.0038,"b":-0.0034,"c":-0.003,"d":-0.0024,"e":-0.0018,"f":-0.0007},
  {"w":423,"a":-0.0045,"b":-0.0041,"c":-0.0036,"d":-0.0029,"e":-0.0021,"f":-0.0009},
  {"w":426,"a":-0.0047,"b":-0.0042,"c":-0.0037,"d":-0.003,"e":-0.0022,"f":-0.0009},
  {"w":429,"a":-0.0043,"b":-0.0039,"c":-0.0034,"d":-0.0027,"e":-0.002,"f":-0.0008},
  {"w":432,"a":-0.0033,"b":-0.003,"c":-0.0026,"d":-0.0021,"e":-0.0015,"f":-0.0006},
  {"w":436,"a":-0.0018,"b":-0.0016,"c":-0.0014,"d":-0.0011,"e":-0.0008,"f":-0.0003},
  {"w":440,"a":-0.0006,"b":-0.0005,"c":-0.0004,"d":-0.0003,"e":-0.0002,"f":-0.0001},
  {"w":445,"a":0,"b":0,"c":0,"d":0,"e":0,"f":0},
  {"w":452,"a":0.0001,"b":0.0001,"c":0.0001,"d":0.0001,"e":0.0001,"f":0.0001},
  {"w":460,"a":0.0003,"b":0.0003,"c":0.0002,"d":0.0002,"e":0.0002,"f":0.0002},
  {"w":470,"a":0.0005,"b":0.0005,"c":0.0004,"d":0.0004,"e":0.0003,"f":0.0002}],
 "s10": [
  {"w":373,"a":0.0032,"b":0.0028,"c":0.0025,"d":0.0022,"e":0.0013},
  {"w":378,"a":0.004,"b":0.0036,"c":0.0033,"d":0.003,"e":0.0016},
  {"w":382,"a":0.0047,"b":0.0043,"c":0.004,"d":0.0037,"e":0.0019},
  {"w":386,"a":0.005,"b":0.0046,"c":0.0043,"d":0.004,"e":0.0021},
  {"w":390,"a":0.0049,"b":0.0045,"c":0.0042,"d":0.0039,"e":0.002},
  {"w":394,"a":0.0041,"b":0.0038,"c":0.0035,"d":0.0032,"e":0.0017},
  {"w":398,"a":0.0027,"b":0.0025,"c":0.0023,"d":0.0021,"e":0.0011},
  {"w":402,"a":0.0008,"b":0.0007,"c":0.0006,"d":0.0005,"e":0.0002},
  {"w":406,"a":-0.0015,"b":-0.0015,"c":-0.0015,"d":-0.0014,"e":-0.0008},
  {"w":410,"a":-0.004,"b":-0.0039,"c":-0.0038,"d":-0.0035,"e":-0.0019},
  {"w":414,"a":-0.0065,"b":-0.0062,"c":-0.006,"d":-0.0056,"e":-0.0031},
  {"w":417,"a":-0.008,"b":-0.0077,"c":-0.0074,"d":-0.007,"e":-0.0039},
  {"w":420,"a":-0.0087,"b":-0.0084,"c":-0.0081,"d":-0.0076,"e":-0.0042},
  {"w":423,"a":-0.0083,"b":-0.008,"c":-0.0077,"d":-0.0072,"e":-0.004},
  {"w":427,"a":-0.0064,"b":-0.0062,"c":-0.006,"d":-0.0056,"e":-0.0031},
  {"w":431,"a":-0.0038,"b":-0.0036,"c":-0.0035,"d":-0.0033,"e":-0.0018},
  {"w":436,"a":-0.0012,"b":-0.0011,"c":-0.0011,"d":-0.001,"e":-0.0005},
  {"w":442,"a":0,"b":0,"c":0,"d":0,"e":0},
  {"w":450,"a":0.0002,"b":0.0002,"c":0.0001,"d":0.0001,"e":0.0001},
  {"w":458,"a":0.0002,"b":0.0002,"c":0.0002,"d":0.0001,"e":0.0001},
  {"w":465,"a":0.0003,"b":0.0003,"c":0.0002,"d":0.0002,"e":0.0002}],
 "l1": [{"w":437.3,"v":0.0019,"t":"438"},{"w":414.8,"v":-0.0082,"t":"415"}],
 "l2": [{"w":431.1,"v":0.006,"t":"430"},{"w":410.7,"v":-0.00815,"t":"410"}],
 "l3": [{"w":437,"v":0.0021,"t":"438"},{"w":415.7,"v":-0.008,"t":"416"}],
 "l4": [{"w":434.3,"v":0.0027,"t":"434"},{"w":412.5,"v":-0.0054,"t":"415"}],
 "l5": [{"w":388.8,"v":0.0064,"t":"387"},{"w":420.2,"v":-0.0065,"t":"422"}],
 "l6": [{"w":431.5,"v":0.00222,"t":"437"},{"w":412.6,"v":-0.00616,"t":"416"}],
 "l7": [{"w":382.8,"v":0.012,"t":"388"},{"w":418.8,"v":-0.0144,"t":"420"}],
 "l8": [{"w":385.7,"v":0.0098,"t":"386"},{"w":417.4,"v":-0.0145,"t":"418"}],
 "l9": [{"w":390.2,"v":0.0025,"t":"387"},{"w":426.9,"v":-0.00565,"t":"425"}],
 "l10": [{"w":390,"v":0.0055,"t":"386"},{"w":418.2,"v":-0.0113,"t":"419"}]
},
"layer": [
 {"layer": [
  {"layer": [
   {"data": {"name": "c1"}, "mark": {"type": "line", "color": "black", "strokeWidth": 2, "interpolate": "monotone"},
    "encoding": {
     "x": {"field": "x", "type": "quantitative", "scale": {"domain": [0, 45], "range": [53, 285], "nice": false, "zero": false}, "axis": {"orient": "bottom", "offset": -695, "values": [0,10,20,30,40], "format": "d", "tickSize": 5, "tickWidth": 1.5, "domainWidth": 1.5, "labelFontSize": 16, "labelPadding": 0, "title": null}},
     "y": {"field": "y", "type": "quantitative", "scale": {"domain": [0, 0.0106], "range": [219, 65], "nice": false, "zero": false}, "axis": {"orient": "left", "offset": -53, "values": [0,0.005,0.01], "format": ".3f", "tickSize": 5, "tickWidth": 1.5, "domainWidth": 1.5, "labelFontSize": 16.5, "labelPadding": 2, "title": "ΔA", "titleFontSize": 18, "titleAngle": 0, "titleX": 1.5, "titleY": 59}}}},
   {"data": {"name": "m1"}, "mark": {"type": "errorbar", "ticks": {"size": 8}, "thickness": 1.2, "color": "black"}, "encoding": {"x": {"field": "x", "type": "quantitative", "title": null}, "y": {"field": "y", "type": "quantitative", "title": "ΔA"}, "yError": {"field": "e"}}},
   {"data": {"name": "m1"}, "mark": {"type": "circle", "size": 55, "color": "black", "opacity": 1}, "encoding": {"x": {"field": "x", "type": "quantitative", "title": null}, "y": {"field": "y", "type": "quantitative", "title": "ΔA"}}},
   {"data": {"values": [{}]}, "mark": {"type": "text", "text": "K", "fontStyle": "italic", "fontSize": 27, "align": "left", "baseline": "alphabetic"}, "encoding": {"x": {"datum": 7.18, "type": "quantitative"}, "y": {"datum": 0.012459, "type": "quantitative"}}},
   {"data": {"values": [{}]}, "mark": {"type": "text", "text": "d", "fontStyle": "italic", "fontSize": 18, "align": "left", "baseline": "alphabetic", "dx": 19, "dy": 7}, "encoding": {"x": {"datum": 7.18, "type": "quantitative"}, "y": {"datum": 0.012459, "type": "quantitative"}}},
   {"data": {"values": [{}]}, "mark": {"type": "text", "text": "= 4.1 ± 0.3 μM", "fontSize": 27, "align": "left", "baseline": "alphabetic", "dx": 35}, "encoding": {"x": {"datum": 7.18, "type": "quantitative"}, "y": {"datum": 0.012459, "type": "quantitative"}}},
   {"data": {"values": [{}]}, "mark": {"type": "text", "text": ")-", "fontSize": 20, "align": "right", "baseline": "alphabetic"}, "encoding": {"x": {"datum": 22.6, "type": "quantitative"}, "y": {"datum": -0.002547, "type": "quantitative"}}},
   {"data": {"values": [{}]}, "mark": {"type": "text", "text": "S", "fontStyle": "italic", "fontSize": 20, "align": "right", "baseline": "alphabetic", "dx": -13.3}, "encoding": {"x": {"datum": 22.6, "type": "quantitative"}, "y": {"datum": -0.002547, "type": "quantitative"}}},
   {"data": {"values": [{}]}, "mark": {"type": "text", "text": "(", "fontSize": 20, "align": "right", "baseline": "alphabetic", "dx": -26.7}, "encoding": {"x": {"datum": 22.6, "type": "quantitative"}, "y": {"datum": -0.002547, "type": "quantitative"}}},
   {"data": {"values": [{}]}, "mark": {"type": "text", "text": "1", "fontWeight": "bold", "fontSize": 20, "align": "left", "baseline": "alphabetic"}, "encoding": {"x": {"datum": 22.6, "type": "quantitative"}, "y": {"datum": -0.002547, "type": "quantitative"}}},
   {"data": {"values": [{}]}, "mark": {"type": "text", "text": ", μM", "fontSize": 20, "align": "left", "baseline": "alphabetic", "dx": 11.1}, "encoding": {"x": {"datum": 22.6, "type": "quantitative"}, "y": {"datum": -0.002547, "type": "quantitative"}}}
  ]},
  {"encoding": {
    "x": {"field": "w", "type": "quantitative", "scale": {"domain": [370, 470], "range": [151.7, 311.7], "nice": false, "zero": false}, "axis": {"orient": "bottom", "offset": -786.3, "values": [380,420,460], "format": "d", "tickSize": 3, "tickWidth": 1.2, "domainWidth": 1.2, "labelFontSize": 11.5, "labelPadding": 1, "labelExpr": "datum.value == 460 ? '460 nm' : datum.label", "labelOffset": {"condition": {"test": "datum.value == 460", "value": 9}, "value": 0}, "title": null}},
    "y": {"field": "v", "type": "quantitative", "scale": {"domain": [-0.0074, 0.0029], "range": [204, 98.3], "nice": false, "zero": false}, "axis": {"orient": "left", "offset": -151.7, "values": [0.002,0,-0.005], "format": ".3f", "tickSize": 3, "tickWidth": 1.2, "domainWidth": 1.2, "labelFontSize": 11.5, "labelPadding": 1, "title": "ΔA", "titleFontSize": 14, "titleAngle": 0, "titleX": 0, "titleY": 97}}},
   "layer": [
    {"data": {"name": "s1"}, "transform": [{"fold": ["a","b","c","d","e","f"], "as": ["k","v"]}], "mark": {"type": "line", "color": "#555555", "strokeWidth": 0.9}, "encoding": {"detail": {"field": "k"}}},
    {"data": {"name": "l1"}, "mark": {"type": "text", "fontWeight": "bold", "fontSize": 13.5}, "encoding": {"text": {"field": "t"}}}
   ]}
 ], "resolve": {"scale": {"x": "independent", "y": "independent"}, "axis": {"x": "independent", "y": "independent"}}},

 {"layer": [
  {"layer": [
   {"data": {"name": "c2"}, "mark": {"type": "line", "color": "black", "strokeWidth": 2, "interpolate": "monotone"},
    "encoding": {
     "x": {"field": "x", "type": "quantitative", "scale": {"domain": [0, 52], "range": [422, 656], "nice": false, "zero": false}, "axis": {"orient": "bottom", "offset": -696.7, "values": [0,10,20,30,40,50], "format": "d", "tickSize": 5, "tickWidth": 1.5, "domainWidth": 1.5, "labelFontSize": 16, "labelPadding": 0, "title": null}},
     "y": {"field": "y", "type": "quantitative", "scale": {"domain": [0, 0.01283], "range": [217.3, 63.3], "nice": false, "zero": false}, "axis": {"orient": "left", "offset": -422, "values": [0,0.005,0.01], "format": ".3f", "tickSize": 5, "tickWidth": 1.5, "domainWidth": 1.5, "labelFontSize": 16.5, "labelPadding": 2, "title": "ΔA", "titleFontSize": 18, "titleAngle": 0, "titleX": 1.5, "titleY": 60}}}},
   {"data": {"name": "m2"}, "mark": {"type": "errorbar", "ticks": {"size": 8}, "thickness": 1.2, "color": "black"}, "encoding": {"x": {"field": "x", "type": "quantitative", "title": null}, "y": {"field": "y", "type": "quantitative", "title": "ΔA"}, "yError": {"field": "e"}}},
   {"data": {"name": "m2"}, "mark": {"type": "circle", "size": 55, "color": "black", "opacity": 1}, "encoding": {"x": {"field": "x", "type": "quantitative", "title": null}, "y": {"field": "y", "type": "quantitative", "title": "ΔA"}}},
   {"data": {"values": [{}]}, "mark": {"type": "text", "text": "K", "fontStyle": "italic", "fontSize": 27, "align": "left", "baseline": "alphabetic"}, "encoding": {"x": {"datum": 9.56, "type": "quantitative"}, "y": {"datum": 0.014938, "type": "quantitative"}}},
   {"data": {"values": [{}]}, "mark": {"type": "text", "text": "d", "fontStyle": "italic", "fontSize": 18, "align": "left", "baseline": "alphabetic", "dx": 19, "dy": 7}, "encoding": {"x": {"datum": 9.56, "type": "quantitative"}, "y": {"datum": 0.014938, "type": "quantitative"}}},
   {"data": {"values": [{}]}, "mark": {"type": "text", "text": "= 2.2 ± 0.4 μM", "fontSize": 27, "align": "left", "baseline": "alphabetic", "dx": 35}, "encoding": {"x": {"datum": 9.56, "type": "quantitative"}, "y": {"datum": 0.014938, "type": "quantitative"}}},
   {"data": {"values": [{}]}, "mark": {"type": "text", "text": "rac-", "fontStyle": "italic", "fontSize": 20, "align": "right", "baseline": "alphabetic"}, "encoding": {"x": {"datum": 25.56, "type": "quantitative"}, "y": {"datum": -0.003141, "type": "quantitative"}}},
   {"data": {"values": [{}]}, "mark": {"type": "text", "text": "1", "fontWeight": "bold", "fontSize": 20, "align": "left", "baseline": "alphabetic"}, "encoding": {"x": {"datum": 25.56, "type": "quantitative"}, "y": {"datum": -0.003141, "type": "quantitative"}}},
   {"data": {"values": [{}]}, "mark": {"type": "text", "text": ", μM", "fontSize": 20, "align": "left", "baseline": "alphabetic", "dx": 11.1}, "encoding": {"x": {"datum": 25.56, "type": "quantitative"}, "y": {"datum": -0.003141, "type": "quantitative"}}}
  ]},
  {"encoding": {
    "x": {"field": "w", "type": "quantitative", "scale": {"domain": [370, 470], "range": [501.7, 651.7], "nice": false, "zero": false}, "axis": {"orient": "bottom", "offset": -763.3, "values": [380,420,460], "format": "d", "tickSize": 3, "tickWidth": 1.2, "domainWidth": 1.2, "labelFontSize": 11.5, "labelPadding": 1, "labelExpr": "datum.value == 460 ? '460 nm' : datum.label", "labelOffset": {"condition": {"test": "datum.value == 460", "value": 9}, "value": 0}, "title": null}},
    "y": {"field": "v", "type": "quantitative", "scale": {"domain": [-0.0079, 0.0053], "range": [206.7, 113.3], "nice": false, "zero": false}, "axis": {"orient": "left", "offset": -501.7, "values": [0.005,0,-0.005], "format": ".3f", "tickSize": 3, "tickWidth": 1.2, "domainWidth": 1.2, "labelFontSize": 11.5, "labelPadding": 1, "title": "ΔA", "titleFontSize": 14, "titleAngle": 0, "titleX": 1, "titleY": 108}}},
   "layer": [
    {"data": {"name": "s2"}, "transform": [{"fold": ["a","b","c","d","e","f"], "as": ["k","v"]}], "mark": {"type": "line", "color": "#555555", "strokeWidth": 0.9}, "encoding": {"detail": {"field": "k"}}},
    {"data": {"name": "l2"}, "mark": {"type": "text", "fontWeight": "bold", "fontSize": 13.5}, "encoding": {"text": {"field": "t"}}}
   ]}
 ], "resolve": {"scale": {"x": "independent", "y": "independent"}, "axis": {"x": "independent", "y": "independent"}}},

 {"layer": [
  {"layer": [
   {"data": {"name": "c3"}, "mark": {"type": "line", "color": "black", "strokeWidth": 2, "interpolate": "monotone"},
    "encoding": {
     "x": {"field": "x", "type": "quantitative", "scale": {"domain": [0, 41.5], "range": [760, 1003.8], "nice": false, "zero": false}, "axis": {"orient": "bottom", "offset": -697.3, "values": [0,10,20,30,40], "format": "d", "tickSize": 5, "tickWidth": 1.5, "domainWidth": 1.5, "labelFontSize": 16, "labelPadding": 0, "title": null}},
     "y": {"field": "y", "type": "quantitative", "scale": {"domain": [0, 0.00946], "range": [216.7, 65], "nice": false, "zero": false}, "axis": {"orient": "left", "offset": -760, "values": [0,0.004,0.008], "format": ".3f", "tickSize": 5, "tickWidth": 1.5, "domainWidth": 1.5, "labelFontSize": 16.5, "labelPadding": 2, "title": "ΔA", "titleFontSize": 18, "titleAngle": 0, "titleX": 0, "titleY": 63}}}},
   {"data": {"name": "m3"}, "mark": {"type": "errorbar", "ticks": {"size": 8}, "thickness": 1.2, "color": "black"}, "encoding": {"x": {"field": "x", "type": "quantitative", "title": null}, "y": {"field": "y", "type": "quantitative", "title": "ΔA"}, "yError": {"field": "e"}}},
   {"data": {"name": "m3"}, "mark": {"type": "circle", "size": 55, "color": "black", "opacity": 1}, "encoding": {"x": {"field": "x", "type": "quantitative", "title": null}, "y": {"field": "y", "type": "quantitative", "title": "ΔA"}}},
   {"data": {"values": [{}]}, "mark": {"type": "text", "text": "K", "fontStyle": "italic", "fontSize": 27, "align": "left", "baseline": "alphabetic"}, "encoding": {"x": {"datum": 2.89, "type": "quantitative"}, "y": {"datum": 0.011144, "type": "quantitative"}}},
   {"data": {"values": [{}]}, "mark": {"type": "text", "text": "d", "fontStyle": "italic", "fontSize": 18, "align": "left", "baseline": "alphabetic", "dx": 19, "dy": 7}, "encoding": {"x": {"datum": 2.89, "type": "quantitative"}, "y": {"datum": 0.011144, "type": "quantitative"}}},
   {"data": {"values": [{}]}, "mark": {"type": "text", "text": "= 3.3 ± 0.3 μM", "fontSize": 27, "align": "left", "baseline": "alphabetic", "dx": 35}, "encoding": {"x": {"datum": 2.89, "type": "quantitative"}, "y": {"datum": 0.011144, "type": "quantitative"}}},
   {"data": {"values": [{}]}, "mark": {"type": "text", "text": "rac-", "fontStyle": "italic", "fontSize": 20, "align": "right", "baseline": "alphabetic"}, "encoding": {"x": {"datum": 22.47, "type": "quantitative"}, "y": {"datum": -0.002388, "type": "quantitative"}}},
   {"data": {"values": [{}]}, "mark": {"type": "text", "text": "2", "fontWeight": "bold", "fontSize": 20, "align": "left", "baseline": "alphabetic"}, "encoding": {"x": {"datum": 22.47, "type": "quantitative"}, "y": {"datum": -0.002388, "type": "quantitative"}}},
   {"data": {"values": [{}]}, "mark": {"type": "text", "text": ", μM", "fontSize": 20, "align": "left", "baseline": "alphabetic", "dx": 11.1}, "encoding": {"x": {"datum": 22.47, "type": "quantitative"}, "y": {"datum": -0.002388, "type": "quantitative"}}}
  ]},
  {"encoding": {
    "x": {"field": "w", "type": "quantitative", "scale": {"domain": [370, 470], "range": [843.3, 995], "nice": false, "zero": false}, "axis": {"orient": "bottom", "offset": -785.7, "values": [380,420,460], "format": "d", "tickSize": 3, "tickWidth": 1.2, "domainWidth": 1.2, "labelFontSize": 11.5, "labelPadding": 1, "labelExpr": "datum.value == 460 ? '460 nm' : datum.label", "labelOffset": {"condition": {"test": "datum.value == 460", "value": 9}, "value": 0}, "title": null}},
    "y": {"field": "v", "type": "quantitative", "scale": {"domain": [-0.0073, 0.0025], "range": [201.7, 103.3], "nice": false, "zero": false}, "axis": {"orient": "left", "offset": -843.3, "values": [0.002,0,-0.006], "format": ".3f", "tickSize": 3, "tickWidth": 1.2, "domainWidth": 1.2, "labelFontSize": 11.5, "labelPadding": 1, "title": "ΔA", "titleFontSize": 14, "titleAngle": 0, "titleX": 1, "titleY": 100}}},
   "layer": [
    {"data": {"name": "s3"}, "transform": [{"fold": ["a","b","c","d","e","f"], "as": ["k","v"]}], "mark": {"type": "line", "color": "#555555", "strokeWidth": 0.9}, "encoding": {"detail": {"field": "k"}}},
    {"data": {"name": "l3"}, "mark": {"type": "text", "fontWeight": "bold", "fontSize": 13.5}, "encoding": {"text": {"field": "t"}}}
   ]}
 ], "resolve": {"scale": {"x": "independent", "y": "independent"}, "axis": {"x": "independent", "y": "independent"}}},

 {"layer": [
  {"layer": [
   {"data": {"name": "c4"}, "mark": {"type": "line", "color": "black", "strokeWidth": 2, "interpolate": "monotone"},
    "encoding": {
     "x": {"field": "x", "type": "quantitative", "scale": {"domain": [0, 31], "range": [1115, 1335.4], "nice": false, "zero": false}, "axis": {"orient": "bottom", "offset": -697.3, "values": [0,10,20,30], "format": "d", "tickSize": 5, "tickWidth": 1.5, "domainWidth": 1.5, "labelFontSize": 16, "labelPadding": 0, "title": null}},
     "y": {"field": "y", "type": "quantitative", "scale": {"domain": [0, 0.00668], "range": [216.7, 68.3], "nice": false, "zero": false}, "axis": {"orient": "left", "offset": -1115, "values": [0,0.003,0.006], "format": ".3f", "tickSize": 5, "tickWidth": 1.5, "domainWidth": 1.5, "labelFontSize": 16.5, "labelPadding": 2, "title": "ΔA", "titleFontSize": 18, "titleAngle": 0, "titleX": -1, "titleY": 65}}}},
   {"data": {"name": "m4"}, "mark": {"type": "errorbar", "ticks": {"size": 8}, "thickness": 1.2, "color": "black"}, "encoding": {"x": {"field": "x", "type": "quantitative", "title": null}, "y": {"field": "y", "type": "quantitative", "title": "ΔA"}, "yError": {"field": "e"}}},
   {"data": {"name": "m4"}, "mark": {"type": "circle", "size": 55, "color": "black", "opacity": 1}, "encoding": {"x": {"field": "x", "type": "quantitative", "title": null}, "y": {"field": "y", "type": "quantitative", "title": "ΔA"}}},
   {"data": {"values": [{}]}, "mark": {"type": "text", "text": "K", "fontStyle": "italic", "fontSize": 27, "align": "left", "baseline": "alphabetic"}, "encoding": {"x": {"datum": 1.547, "type": "quantitative"}, "y": {"datum": 0.008044, "type": "quantitative"}}},
   {"data": {"values": [{}]}, "mark": {"type": "text", "text": "d", "fontStyle": "italic", "fontSize": 18, "align": "left", "baseline": "alphabetic", "dx": 19, "dy": 7}, "encoding": {"x": {"datum": 1.547, "type": "quantitative"}, "y": {"datum": 0.008044, "type": "quantitative"}}},
   {"data": {"values": [{}]}, "mark": {"type": "text", "text": "= 1.6 ± 0.1 μM", "fontSize": 27, "align": "left", "baseline": "alphabetic", "dx": 35}, "encoding": {"x": {"datum": 1.547, "type": "quantitative"}, "y": {"datum": 0.008044, "type": "quantitative"}}},
   {"data": {"values": [{}]}, "mark": {"type": "text", "text": "rac-", "fontStyle": "italic", "fontSize": 20, "align": "right", "baseline": "alphabetic"}, "encoding": {"x": {"datum": 17.16, "type": "quantitative"}, "y": {"datum": -0.001724, "type": "quantitative"}}},
   {"data": {"values": [{}]}, "mark": {"type": "text", "text": "3", "fontWeight": "bold", "fontSize": 20, "align": "left", "baseline": "alphabetic"}, "encoding": {"x": {"datum": 17.16, "type": "quantitative"}, "y": {"datum": -0.001724, "type": "quantitative"}}},
   {"data": {"values": [{}]}, "mark": {"type": "text", "text": ", μM", "fontSize": 20, "align": "left", "baseline": "alphabetic", "dx": 11.1}, "encoding": {"x": {"datum": 17.16, "type": "quantitative"}, "y": {"datum": -0.001724, "type": "quantitative"}}}
  ]},
  {"encoding": {
    "x": {"field": "w", "type": "quantitative", "scale": {"domain": [370, 470], "range": [1190, 1335], "nice": false, "zero": false}, "axis": {"orient": "bottom", "offset": -767.3, "values": [380,420,460], "format": "d", "tickSize": 3, "tickWidth": 1.2, "domainWidth": 1.2, "labelFontSize": 11.5, "labelPadding": 1, "labelExpr": "datum.value == 460 ? '460 nm' : datum.label", "labelOffset": {"condition": {"test": "datum.value == 460", "value": 9}, "value": 0}, "title": null}},
    "y": {"field": "v", "type": "quantitative", "scale": {"domain": [-0.0052, 0.00385], "range": [201.7, 106], "nice": false, "zero": false}, "axis": {"orient": "left", "offset": -1190, "values": [0.003,0,-0.003], "format": ".3f", "tickSize": 3, "tickWidth": 1.2, "domainWidth": 1.2, "labelFontSize": 11.5, "labelPadding": 1, "title": "ΔA", "titleFontSize": 14, "titleAngle": 0, "titleX": 0, "titleY": 103}}},
   "layer": [
    {"data": {"name": "s4"}, "transform": [{"fold": ["a","b","c","d","e"], "as": ["k","v"]}], "mark": {"type": "line", "color": "#555555", "strokeWidth": 0.9}, "encoding": {"detail": {"field": "k"}}},
    {"data": {"name": "l4"}, "mark": {"type": "text", "fontWeight": "bold", "fontSize": 13.5}, "encoding": {"text": {"field": "t"}}}
   ]}
 ], "resolve": {"scale": {"x": "independent", "y": "independent"}, "axis": {"x": "independent", "y": "independent"}}},

 {"layer": [
  {"layer": [
   {"data": {"name": "c5"}, "mark": {"type": "line", "color": "black", "strokeWidth": 2, "interpolate": "monotone"},
    "encoding": {
     "x": {"field": "x", "type": "quantitative", "scale": {"domain": [0, 30.7], "range": [53.3, 288.8], "nice": false, "zero": false}, "axis": {"orient": "bottom", "offset": -380.7, "values": [0,10,20,30], "format": "d", "tickSize": 5, "tickWidth": 1.5, "domainWidth": 1.5, "labelFontSize": 16, "labelPadding": 0, "title": null}},
     "y": {"field": "y", "type": "quantitative", "scale": {"domain": [0, 0.01123], "range": [533.3, 381.7], "nice": false, "zero": false}, "axis": {"orient": "left", "offset": -53.3, "values": [0,0.005,0.01], "format": ".3f", "tickSize": 5, "tickWidth": 1.5, "domainWidth": 1.5, "labelFontSize": 16.5, "labelPadding": 2, "title": "ΔA", "titleFontSize": 18, "titleAngle": 0, "titleX": 1.7, "titleY": 380}}}},
   {"data": {"name": "m5"}, "mark": {"type": "errorbar", "ticks": {"size": 8}, "thickness": 1.2, "color": "black"}, "encoding": {"x": {"field": "x", "type": "quantitative", "title": null}, "y": {"field": "y", "type": "quantitative", "title": "ΔA"}, "yError": {"field": "e"}}},
   {"data": {"name": "m5"}, "mark": {"type": "circle", "size": 55, "color": "black", "opacity": 1}, "encoding": {"x": {"field": "x", "type": "quantitative", "title": null}, "y": {"field": "y", "type": "quantitative", "title": "ΔA"}}},
   {"data": {"values": [{}]}, "mark": {"type": "text", "text": "K", "fontStyle": "italic", "fontSize": 27, "align": "left", "baseline": "alphabetic"}, "encoding": {"x": {"datum": 6.31, "type": "quantitative"}, "y": {"datum": 0.014563, "type": "quantitative"}}},
   {"data": {"values": [{}]}, "mark": {"type": "text", "text": "d", "fontStyle": "italic", "fontSize": 18, "align": "left", "baseline": "alphabetic", "dx": 19, "dy": 6}, "encoding": {"x": {"datum": 6.31, "type": "quantitative"}, "y": {"datum": 0.014563, "type": "quantitative"}}},
   {"data": {"values": [{}]}, "mark": {"type": "text", "text": "= 3.2 ± 0.3 μM", "fontSize": 27, "align": "left", "baseline": "alphabetic", "dx": 35}, "encoding": {"x": {"datum": 6.31, "type": "quantitative"}, "y": {"datum": 0.014563, "type": "quantitative"}}},
   {"data": {"values": [{}]}, "mark": {"type": "text", "text": "H = 2.7 ± 0.2", "fontSize": 27, "align": "left", "baseline": "alphabetic", "dy": 26.6}, "encoding": {"x": {"datum": 6.31, "type": "quantitative"}, "y": {"datum": 0.014563, "type": "quantitative"}}},
   {"data": {"values": [{}]}, "mark": {"type": "text", "text": "rac-", "fontStyle": "italic", "fontSize": 20, "align": "right", "baseline": "alphabetic"}, "encoding": {"x": {"datum": 15.6, "type": "quantitative"}, "y": {"datum": -0.003311, "type": "quantitative"}}},
   {"data": {"values": [{}]}, "mark": {"type": "text", "text": "5", "fontWeight": "bold", "fontSize": 20, "align": "left", "baseline": "alphabetic"}, "encoding": {"x": {"datum": 15.6, "type": "quantitative"}, "y": {"datum": -0.003311, "type": "quantitative"}}},
   {"data": {"values": [{}]}, "mark": {"type": "text", "text": ", μM", "fontSize": 20, "align": "left", "baseline": "alphabetic", "dx": 11.1}, "encoding": {"x": {"datum": 15.6, "type": "quantitative"}, "y": {"datum": -0.003311, "type": "quantitative"}}}
  ]},
  {"encoding": {
    "x": {"field": "w", "type": "quantitative", "scale": {"domain": [370, 470], "range": [136, 290], "nice": false, "zero": false}, "axis": {"orient": "bottom", "offset": -440.7, "values": [380,420,460], "format": "d", "tickSize": 3, "tickWidth": 1.2, "domainWidth": 1.2, "labelFontSize": 11.5, "labelPadding": 1, "labelExpr": "datum.value == 460 ? '460 nm' : datum.label", "labelOffset": {"condition": {"test": "datum.value == 460", "value": 9}, "value": 0}, "title": null}},
    "y": {"field": "v", "type": "quantitative", "scale": {"domain": [-0.0063, 0.0058], "range": [520, 430], "nice": false, "zero": false}, "axis": {"orient": "left", "offset": -136, "values": [0.005,0,-0.005], "format": ".3f", "tickSize": 3, "tickWidth": 1.2, "domainWidth": 1.2, "labelFontSize": 11.5, "labelPadding": 1, "title": "ΔA", "titleFontSize": 14, "titleAngle": 0, "titleX": 0, "titleY": 429}}},
   "layer": [
    {"data": {"name": "s5"}, "transform": [{"fold": ["a","b","c","d","e","f"], "as": ["k","v"]}], "mark": {"type": "line", "color": "#555555", "strokeWidth": 0.9}, "encoding": {"detail": {"field": "k"}}},
    {"data": {"name": "l5"}, "mark": {"type": "text", "fontWeight": "bold", "fontSize": 13.5}, "encoding": {"text": {"field": "t"}}}
   ]}
 ], "resolve": {"scale": {"x": "independent", "y": "independent"}, "axis": {"x": "independent", "y": "independent"}}},

 {"layer": [
  {"layer": [
   {"data": {"name": "c6"}, "mark": {"type": "line", "color": "black", "strokeWidth": 2.4, "interpolate": "monotone"},
    "encoding": {
     "x": {"field": "x", "type": "quantitative", "scale": {"domain": [0, 22], "range": [546, 849.6], "nice": false, "zero": false}, "axis": {"orient": "bottom", "offset": -370.7, "values": [0,5,10,15,20], "format": "d", "tickSize": 6, "tickWidth": 1.8, "domainWidth": 1.8, "labelFontSize": 21, "labelPadding": 1, "title": null}},
     "y": {"field": "y", "type": "quantitative", "scale": {"domain": [0, 0.00747], "range": [543.3, 340], "nice": false, "zero": false}, "axis": {"orient": "left", "offset": -546, "values": [0,0.003,0.006], "format": ".3f", "tickSize": 6, "tickWidth": 1.8, "domainWidth": 1.8, "labelFontSize": 21, "labelPadding": 2, "title": "ΔA", "titleFontSize": 24, "titleAngle": 0, "titleX": -1, "titleY": 338}}}},
   {"data": {"name": "m6"}, "mark": {"type": "errorbar", "ticks": {"size": 11}, "thickness": 1.5, "color": "black"}, "encoding": {"x": {"field": "x", "type": "quantitative", "title": null}, "y": {"field": "y", "type": "quantitative", "title": "ΔA"}, "yError": {"field": "e"}}},
   {"data": {"name": "m6"}, "mark": {"type": "circle", "size": 95, "color": "black", "opacity": 1}, "encoding": {"x": {"field": "x", "type": "quantitative", "title": null}, "y": {"field": "y", "type": "quantitative", "title": "ΔA"}}},
   {"data": {"values": [{}]}, "mark": {"type": "text", "text": "K", "fontStyle": "italic", "fontSize": 31, "align": "left", "baseline": "alphabetic"}, "encoding": {"x": {"datum": 3.79, "type": "quantitative"}, "y": {"datum": 0.008083, "type": "quantitative"}}},
   {"data": {"values": [{}]}, "mark": {"type": "text", "text": "d", "fontStyle": "italic", "fontSize": 20, "align": "left", "baseline": "alphabetic", "dx": 20, "dy": 8}, "encoding": {"x": {"datum": 3.79, "type": "quantitative"}, "y": {"datum": 0.008083, "type": "quantitative"}}},
   {"data": {"values": [{}]}, "mark": {"type": "text", "text": "= 0.8 ± 0.07 μM", "fontSize": 31, "align": "left", "baseline": "alphabetic", "dx": 38}, "encoding": {"x": {"datum": 3.79, "type": "quantitative"}, "y": {"datum": 0.008083, "type": "quantitative"}}},
   {"data": {"values": [{}]}, "mark": {"type": "text", "text": ")-", "fontSize": 26, "align": "right", "baseline": "alphabetic"}, "encoding": {"x": {"datum": 6.72, "type": "quantitative"}, "y": {"datum": -0.002157, "type": "quantitative"}}},
   {"data": {"values": [{}]}, "mark": {"type": "text", "text": "S", "fontStyle": "italic", "fontSize": 26, "align": "right", "baseline": "alphabetic", "dx": -17.3}, "encoding": {"x": {"datum": 6.72, "type": "quantitative"}, "y": {"datum": -0.002157, "type": "quantitative"}}},
   {"data": {"values": [{}]}, "mark": {"type": "text", "text": "(", "fontSize": 26, "align": "right", "baseline": "alphabetic", "dx": -34.7}, "encoding": {"x": {"datum": 6.72, "type": "quantitative"}, "y": {"datum": -0.002157, "type": "quantitative"}}},
   {"data": {"values": [{}]}, "mark": {"type": "text", "text": "EFV", "fontWeight": "bold", "fontSize": 26, "align": "left", "baseline": "alphabetic"}, "encoding": {"x": {"datum": 6.72, "type": "quantitative"}, "y": {"datum": -0.002157, "type": "quantitative"}}},
   {"data": {"values": [{}]}, "mark": {"type": "text", "text": ", μM", "fontSize": 26, "align": "left", "baseline": "alphabetic", "dx": 50.6}, "encoding": {"x": {"datum": 6.72, "type": "quantitative"}, "y": {"datum": -0.002157, "type": "quantitative"}}}
  ]},
  {"encoding": {
    "x": {"field": "w", "type": "quantitative", "scale": {"domain": [370, 463], "range": [649.5, 821.5], "nice": false, "zero": false}, "axis": {"orient": "bottom", "offset": -476.3, "values": [380,420,460], "format": "d", "tickSize": 4, "tickWidth": 1.3, "domainWidth": 1.3, "labelFontSize": 15, "labelPadding": 1, "labelExpr": "datum.value == 460 ? '460 nm' : datum.label", "title": null}},
    "y": {"field": "v", "type": "quantitative", "scale": {"domain": [-0.00582, 0.00211], "range": [523.3, 406.7], "nice": false, "zero": false}, "axis": {"orient": "left", "offset": -650, "values": [0.002,0,-0.004], "format": ".3f", "tickSize": 4, "tickWidth": 1.3, "domainWidth": 1.3, "labelFontSize": 15, "labelPadding": 1, "title": "ΔA", "titleFontSize": 18, "titleAngle": 0, "titleX": 13, "titleY": 406}}},
   "layer": [
    {"data": {"name": "s6"}, "transform": [{"fold": ["a","b","c","d","e","f"], "as": ["k","v"]}], "mark": {"type": "line", "color": "#555555", "strokeWidth": 1}, "encoding": {"detail": {"field": "k"}}},
    {"data": {"name": "l6"}, "mark": {"type": "text", "fontWeight": "bold", "fontSize": 17}, "encoding": {"text": {"field": "t"}}}
   ]}
 ], "resolve": {"scale": {"x": "independent", "y": "independent"}, "axis": {"x": "independent", "y": "independent"}}},

 {"layer": [
  {"layer": [
   {"data": {"name": "c7"}, "mark": {"type": "line", "color": "black", "strokeWidth": 2, "interpolate": "monotone"},
    "encoding": {
     "x": {"field": "x", "type": "quantitative", "scale": {"domain": [0, 104], "range": [1116, 1347], "nice": false, "zero": false}, "axis": {"orient": "bottom", "offset": -381.7, "values": [0,20,40,60,80,100], "format": "d", "tickSize": 5, "tickWidth": 1.5, "domainWidth": 1.5, "labelFontSize": 16, "labelPadding": 0, "title": null}},
     "y": {"field": "y", "type": "quantitative", "scale": {"domain": [0, 0.0191], "range": [532.3, 385], "nice": false, "zero": false}, "axis": {"orient": "left", "offset": -1116, "values": [0,0.005,0.01,0.015], "format": ".3f", "tickSize": 5, "tickWidth": 1.5, "domainWidth": 1.5, "labelFontSize": 16.5, "labelPadding": 2, "title": "ΔA", "titleFontSize": 18, "titleAngle": 0, "titleX": 2, "titleY": 385}}}},
   {"data": {"name": "m7"}, "mark": {"type": "errorbar", "ticks": {"size": 8}, "thickness": 1.2, "color": "black"}, "encoding": {"x": {"field": "x", "type": "quantitative", "title": null}, "y": {"field": "y", "type": "quantitative", "title": "ΔA"}, "yError": {"field": "e"}}},
   {"data": {"name": "m7"}, "mark": {"type": "circle", "size": 50, "color": "black", "opacity": 1}, "encoding": {"x": {"field": "x", "type": "quantitative", "title": null}, "y": {"field": "y", "type": "quantitative", "title": "ΔA"}}},
   {"data": {"values": [{}]}, "mark": {"type": "text", "text": "K", "fontStyle": "italic", "fontSize": 27, "align": "left", "baseline": "alphabetic"}, "encoding": {"x": {"datum": 6.3, "type": "quantitative"}, "y": {"datum": 0.025584, "type": "quantitative"}}},
   {"data": {"values": [{}]}, "mark": {"type": "text", "text": "d", "fontStyle": "italic", "fontSize": 18, "align": "left", "baseline": "alphabetic", "dx": 19, "dy": 7}, "encoding": {"x": {"datum": 6.3, "type": "quantitative"}, "y": {"datum": 0.025584, "type": "quantitative"}}},
   {"data": {"values": [{}]}, "mark": {"type": "text", "text": "= 8.9 ± 0.4 μM", "fontSize": 27, "align": "left", "baseline": "alphabetic", "dx": 35}, "encoding": {"x": {"datum": 6.3, "type": "quantitative"}, "y": {"datum": 0.025584, "type": "quantitative"}}},
   {"data": {"values": [{}]}, "mark": {"type": "text", "text": ")-", "fontSize": 20, "align": "right", "baseline": "alphabetic"}, "encoding": {"x": {"datum": 50.2, "type": "quantitative"}, "y": {"datum": -0.006185, "type": "quantitative"}}},
   {"data": {"values": [{}]}, "mark": {"type": "text", "text": "S", "fontStyle": "italic", "fontSize": 20, "align": "right", "baseline": "alphabetic", "dx": -13.3}, "encoding": {"x": {"datum": 50.2, "type": "quantitative"}, "y": {"datum": -0.006185, "type": "quantitative"}}},
   {"data": {"values": [{}]}, "mark": {"type": "text", "text": "(", "fontSize": 20, "align": "right", "baseline": "alphabetic", "dx": -26.7}, "encoding": {"x": {"datum": 50.2, "type": "quantitative"}, "y": {"datum": -0.006185, "type": "quantitative"}}},
   {"data": {"values": [{}]}, "mark": {"type": "text", "text": "6", "fontWeight": "bold", "fontSize": 20, "align": "left", "baseline": "alphabetic"}, "encoding": {"x": {"datum": 50.2, "type": "quantitative"}, "y": {"datum": -0.006185, "type": "quantitative"}}},
   {"data": {"values": [{}]}, "mark": {"type": "text", "text": ", μM", "fontSize": 20, "align": "left", "baseline": "alphabetic", "dx": 11.1}, "encoding": {"x": {"datum": 50.2, "type": "quantitative"}, "y": {"datum": -0.006185, "type": "quantitative"}}}
  ]},
  {"encoding": {
    "x": {"field": "w", "type": "quantitative", "scale": {"domain": [370, 470], "range": [1190, 1333.3], "nice": false, "zero": false}, "axis": {"orient": "bottom", "offset": -434, "values": [380,420,460], "format": "d", "tickSize": 3, "tickWidth": 1.2, "domainWidth": 1.2, "labelFontSize": 11.5, "labelPadding": 1, "labelExpr": "datum.value == 460 ? '460 nm' : datum.label", "labelOffset": {"condition": {"test": "datum.value == 460", "value": 9}, "value": 0}, "title": null}},
    "y": {"field": "v", "type": "quantitative", "scale": {"domain": [-0.0125, 0.0146], "range": [520, 433.3], "nice": false, "zero": false}, "axis": {"orient": "left", "offset": -1190, "values": [0.01,0,-0.01], "format": ".3f", "tickSize": 3, "tickWidth": 1.2, "domainWidth": 1.2, "labelFontSize": 11.5, "labelPadding": 1, "title": "ΔA", "titleFontSize": 14, "titleAngle": 0, "titleX": -2, "titleY": 431.7}}},
   "layer": [
    {"data": {"name": "s7"}, "transform": [{"fold": ["a","b","c","d","e"], "as": ["k","v"]}], "mark": {"type": "line", "color": "#555555", "strokeWidth": 0.9}, "encoding": {"detail": {"field": "k"}}},
    {"data": {"name": "l7"}, "mark": {"type": "text", "fontWeight": "bold", "fontSize": 13.5}, "encoding": {"text": {"field": "t"}}}
   ]}
 ], "resolve": {"scale": {"x": "independent", "y": "independent"}, "axis": {"x": "independent", "y": "independent"}}},

 {"layer": [
  {"layer": [
   {"data": {"name": "c8"}, "mark": {"type": "line", "color": "black", "strokeWidth": 2, "interpolate": "monotone"},
    "encoding": {
     "x": {"field": "x", "type": "quantitative", "scale": {"domain": [0, 223], "range": [52.3, 289.4], "nice": false, "zero": false}, "axis": {"orient": "bottom", "offset": -44.7, "values": [0,50,100,150,200], "format": "d", "tickSize": 5, "tickWidth": 1.5, "domainWidth": 1.5, "labelFontSize": 16, "labelPadding": 0, "title": null}},
     "y": {"field": "y", "type": "quantitative", "scale": {"domain": [0, 0.02755], "range": [869.3, 720], "nice": false, "zero": false}, "axis": {"orient": "left", "offset": -52.3, "values": [0,0.01,0.02], "format": ".2f", "tickSize": 5, "tickWidth": 1.5, "domainWidth": 1.5, "labelFontSize": 16.5, "labelPadding": 2, "title": "ΔA", "titleFontSize": 18, "titleAngle": 0, "titleX": 0, "titleY": 718}}}},
   {"data": {"name": "m8"}, "mark": {"type": "errorbar", "ticks": {"size": 8}, "thickness": 1.2, "color": "black"}, "encoding": {"x": {"field": "x", "type": "quantitative", "title": null}, "y": {"field": "y", "type": "quantitative", "title": "ΔA"}, "yError": {"field": "e"}}},
   {"data": {"name": "m8"}, "mark": {"type": "circle", "size": 50, "color": "black", "opacity": 1}, "encoding": {"x": {"field": "x", "type": "quantitative", "title": null}, "y": {"field": "y", "type": "quantitative", "title": "ΔA"}}},
   {"data": {"values": [{}]}, "mark": {"type": "text", "text": "K", "fontStyle": "italic", "fontSize": 27, "align": "left", "baseline": "alphabetic"}, "encoding": {"x": {"datum": 10.35, "type": "quantitative"}, "y": {"datum": 0.03401, "type": "quantitative"}}},
   {"data": {"values": [{}]}, "mark": {"type": "text", "text": "d", "fontStyle": "italic", "fontSize": 18, "align": "left", "baseline": "alphabetic", "dx": 19, "dy": 7}, "encoding": {"x": {"datum": 10.35, "type": "quantitative"}, "y": {"datum": 0.03401, "type": "quantitative"}}},
   {"data": {"values": [{}]}, "mark": {"type": "text", "text": "= 25.8 ± 0.8 μM", "fontSize": 27, "align": "left", "baseline": "alphabetic", "dx": 35}, "encoding": {"x": {"datum": 10.35, "type": "quantitative"}, "y": {"datum": 0.03401, "type": "quantitative"}}},
   {"data": {"values": [{}]}, "mark": {"type": "text", "text": "rac-", "fontStyle": "italic", "fontSize": 20, "align": "right", "baseline": "alphabetic"}, "encoding": {"x": {"datum": 113.5, "type": "quantitative"}, "y": {"datum": -0.007142, "type": "quantitative"}}},
   {"data": {"values": [{}]}, "mark": {"type": "text", "text": "7", "fontWeight": "bold", "fontSize": 20, "align": "left", "baseline": "alphabetic"}, "encoding": {"x": {"datum": 113.5, "type": "quantitative"}, "y": {"datum": -0.007142, "type": "quantitative"}}},
   {"data": {"values": [{}]}, "mark": {"type": "text", "text": ", μM", "fontSize": 20, "align": "left", "baseline": "alphabetic", "dx": 11.1}, "encoding": {"x": {"datum": 113.5, "type": "quantitative"}, "y": {"datum": -0.007142, "type": "quantitative"}}}
  ]},
  {"encoding": {
    "x": {"field": "w", "type": "quantitative", "scale": {"domain": [371, 466], "range": [133.3, 273.3], "nice": false, "zero": false}, "axis": {"orient": "bottom", "offset": -100.7, "values": [380,420,460], "format": "d", "tickSize": 3, "tickWidth": 1.2, "domainWidth": 1.2, "labelFontSize": 11.5, "labelPadding": 1, "labelExpr": "datum.value == 460 ? '460 nm' : datum.label", "labelOffset": {"condition": {"test": "datum.value == 460", "value": 9}, "value": 0}, "title": null}},
    "y": {"field": "v", "type": "quantitative", "scale": {"domain": [-0.0119, 0.0122], "range": [851.7, 774], "nice": false, "zero": false}, "axis": {"orient": "left", "offset": -133.3, "values": [0.01,0,-0.01], "format": ".3f", "tickSize": 3, "tickWidth": 1.2, "domainWidth": 1.2, "labelFontSize": 11.5, "labelPadding": 1, "title": "ΔA", "titleFontSize": 14, "titleAngle": 0, "titleX": 0, "titleY": 773}}},
   "layer": [
    {"data": {"name": "s8"}, "transform": [{"fold": ["a","b","c","d","e","f"], "as": ["k","v"]}], "mark": {"type": "line", "color": "#555555", "strokeWidth": 0.9}, "encoding": {"detail": {"field": "k"}}},
    {"data": {"name": "l8"}, "mark": {"type": "text", "fontWeight": "bold", "fontSize": 13.5}, "encoding": {"text": {"field": "t"}}}
   ]}
 ], "resolve": {"scale": {"x": "independent", "y": "independent"}, "axis": {"x": "independent", "y": "independent"}}},

 {"layer": [
  {"layer": [
   {"data": {"name": "c9"}, "mark": {"type": "line", "color": "black", "strokeWidth": 2, "interpolate": "monotone"},
    "encoding": {
     "x": {"field": "x", "type": "quantitative", "scale": {"domain": [0, 31.8], "range": [587.3, 825], "nice": false, "zero": false}, "axis": {"orient": "bottom", "offset": -44.7, "values": [0,10,20,30], "format": "d", "tickSize": 5, "tickWidth": 1.5, "domainWidth": 1.5, "labelFontSize": 16, "labelPadding": 0, "title": null}},
     "y": {"field": "y", "type": "quantitative", "scale": {"domain": [0, 0.00656], "range": [869.3, 710], "nice": false, "zero": false}, "axis": {"orient": "left", "offset": -587.3, "values": [0,0.003,0.006], "format": ".3f", "tickSize": 5, "tickWidth": 1.5, "domainWidth": 1.5, "labelFontSize": 16.5, "labelPadding": 2, "title": "ΔA", "titleFontSize": 18, "titleAngle": 0, "titleX": 2.7, "titleY": 711.7}}}},
   {"data": {"name": "m9"}, "mark": {"type": "errorbar", "ticks": {"size": 8}, "thickness": 1.2, "color": "black"}, "encoding": {"x": {"field": "x", "type": "quantitative", "title": null}, "y": {"field": "y", "type": "quantitative", "title": "ΔA"}, "yError": {"field": "e"}}},
   {"data": {"name": "m9"}, "mark": {"type": "circle", "size": 55, "color": "black", "opacity": 1}, "encoding": {"x": {"field": "x", "type": "quantitative", "title": null}, "y": {"field": "y", "type": "quantitative", "title": "ΔA"}}},
   {"data": {"values": [{}]}, "mark": {"type": "text", "text": "K", "fontStyle": "italic", "fontSize": 27, "align": "left", "baseline": "alphabetic"}, "encoding": {"x": {"datum": 3.04, "type": "quantitative"}, "y": {"datum": 0.007589, "type": "quantitative"}}},
   {"data": {"values": [{}]}, "mark": {"type": "text", "text": "d", "fontStyle": "italic", "fontSize": 18, "align": "left", "baseline": "alphabetic", "dx": 19, "dy": 7}, "encoding": {"x": {"datum": 3.04, "type": "quantitative"}, "y": {"datum": 0.007589, "type": "quantitative"}}},
   {"data": {"values": [{}]}, "mark": {"type": "text", "text": "= 2.0 ± 0.3 μM", "fontSize": 27, "align": "left", "baseline": "alphabetic", "dx": 35}, "encoding": {"x": {"datum": 3.04, "type": "quantitative"}, "y": {"datum": 0.007589, "type": "quantitative"}}},
   {"data": {"values": [{}]}, "mark": {"type": "text", "text": "rac-", "fontStyle": "italic", "fontSize": 20, "align": "right", "baseline": "alphabetic"}, "encoding": {"x": {"datum": 16.55, "type": "quantitative"}, "y": {"datum": -0.001594, "type": "quantitative"}}},
   {"data": {"values": [{}]}, "mark": {"type": "text", "text": "8", "fontWeight": "bold", "fontSize": 20, "align": "left", "baseline": "alphabetic"}, "encoding": {"x": {"datum": 16.55, "type": "quantitative"}, "y": {"datum": -0.001594, "type": "quantitative"}}},
   {"data": {"values": [{}]}, "mark": {"type": "text", "text": ", μM", "fontSize": 20, "align": "left", "baseline": "alphabetic", "dx": 11.1}, "encoding": {"x": {"datum": 16.55, "type": "quantitative"}, "y": {"datum": -0.001594, "type": "quantitative"}}}
  ]},
  {"encoding": {
    "x": {"field": "w", "type": "quantitative", "scale": {"domain": [374, 470], "range": [675, 823.3], "nice": false, "zero": false}, "axis": {"orient": "bottom", "offset": -122.3, "values": [380,420,460], "format": "d", "tickSize": 3, "tickWidth": 1.2, "domainWidth": 1.2, "labelFontSize": 11.5, "labelPadding": 1, "labelExpr": "datum.value == 460 ? '460 nm' : datum.label", "labelOffset": {"condition": {"test": "datum.value == 460", "value": 9}, "value": 0}, "title": null}},
    "y": {"field": "v", "type": "quantitative", "scale": {"domain": [-0.00513, 0.00263], "range": [856.7, 758.3], "nice": false, "zero": false}, "axis": {"orient": "left", "offset": -675, "values": [0.002,0,-0.004], "format": ".3f", "tickSize": 3, "tickWidth": 1.2, "domainWidth": 1.2, "labelFontSize": 11.5, "labelPadding": 1, "title": "ΔA", "titleFontSize": 14, "titleAngle": 0, "titleX": -4, "titleY": 758}}},
   "layer": [
    {"data": {"name": "s9"}, "transform": [{"fold": ["a","b","c","d","e","f"], "as": ["k","v"]}], "mark": {"type": "line", "color": "#555555", "strokeWidth": 0.9}, "encoding": {"detail": {"field": "k"}}},
    {"data": {"name": "l9"}, "mark": {"type": "text", "fontWeight": "bold", "fontSize": 13.5}, "encoding": {"text": {"field": "t"}}}
   ]}
 ], "resolve": {"scale": {"x": "independent", "y": "independent"}, "axis": {"x": "independent", "y": "independent"}}},

 {"layer": [
  {"layer": [
   {"data": {"name": "c10"}, "mark": {"type": "line", "color": "black", "strokeWidth": 2, "interpolate": "monotone"},
    "encoding": {
     "x": {"field": "x", "type": "quantitative", "scale": {"domain": [0, 41], "range": [1115, 1343.9], "nice": false, "zero": false}, "axis": {"orient": "bottom", "offset": -44.7, "values": [0,10,20,30,40], "format": "d", "tickSize": 5, "tickWidth": 1.5, "domainWidth": 1.5, "labelFontSize": 16, "labelPadding": 0, "title": null}},
     "y": {"field": "y", "type": "quantitative", "scale": {"domain": [0, 0.01485], "range": [869.3, 725], "nice": false, "zero": false}, "axis": {"orient": "left", "offset": -1115, "values": [0,0.006,0.012], "format": ".3f", "tickSize": 5, "tickWidth": 1.5, "domainWidth": 1.5, "labelFontSize": 16.5, "labelPadding": 2, "title": "ΔA", "titleFontSize": 18, "titleAngle": 0, "titleX": -1, "titleY": 720}}}},
   {"data": {"name": "m10"}, "mark": {"type": "errorbar", "ticks": {"size": 8}, "thickness": 1.2, "color": "black"}, "encoding": {"x": {"field": "x", "type": "quantitative", "title": null}, "y": {"field": "y", "type": "quantitative", "title": "ΔA"}, "yError": {"field": "e"}}},
   {"data": {"name": "m10"}, "mark": {"type": "circle", "size": 55, "color": "black", "opacity": 1}, "encoding": {"x": {"field": "x", "type": "quantitative", "title": null}, "y": {"field": "y", "type": "quantitative", "title": "ΔA"}}},
   {"data": {"values": [{}]}, "mark": {"type": "text", "text": "K", "fontStyle": "italic", "fontSize": 27, "align": "left", "baseline": "alphabetic"}, "encoding": {"x": {"datum": 0.18, "type": "quantitative"}, "y": {"datum": 0.018967, "type": "quantitative"}}},
   {"data": {"values": [{}]}, "mark": {"type": "text", "text": "d", "fontStyle": "italic", "fontSize": 18, "align": "left", "baseline": "alphabetic", "dx": 19, "dy": 7}, "encoding": {"x": {"datum": 0.18, "type": "quantitative"}, "y": {"datum": 0.018967, "type": "quantitative"}}},
   {"data": {"values": [{}]}, "mark": {"type": "text", "text": "= 1.3 ± 0.2 μM", "fontSize": 27, "align": "left", "baseline": "alphabetic", "dx": 35}, "encoding": {"x": {"datum": 0.18, "type": "quantitative"}, "y": {"datum": 0.018967, "type": "quantitative"}}},
   {"data": {"values": [{}]}, "mark": {"type": "text", "text": "rac-", "fontStyle": "italic", "fontSize": 20, "align": "right", "baseline": "alphabetic"}, "encoding": {"x": {"datum": 20.42, "type": "quantitative"}, "y": {"datum": -0.003983, "type": "quantitative"}}},
   {"data": {"values": [{}]}, "mark": {"type": "text", "text": "9", "fontWeight": "bold", "fontSize": 20, "align": "left", "baseline": "alphabetic"}, "encoding": {"x": {"datum": 20.42, "type": "quantitative"}, "y": {"datum": -0.003983, "type": "quantitative"}}},
   {"data": {"values": [{}]}, "mark": {"type": "text", "text": ", μM", "fontSize": 20, "align": "left", "baseline": "alphabetic", "dx": 11.1}, "encoding": {"x": {"datum": 20.42, "type": "quantitative"}, "y": {"datum": -0.003983, "type": "quantitative"}}}
  ]},
  {"encoding": {
    "x": {"field": "w", "type": "quantitative", "scale": {"domain": [372.5, 465.5], "range": [1182.7, 1318.3], "nice": false, "zero": false}, "axis": {"orient": "bottom", "offset": -120, "values": [380,420,460], "format": "d", "tickSize": 3, "tickWidth": 1.2, "domainWidth": 1.2, "labelFontSize": 11.5, "labelPadding": 1, "labelExpr": "datum.value == 460 ? '460 nm' : datum.label", "labelOffset": {"condition": {"test": "datum.value == 460", "value": 9}, "value": 0}, "title": null}},
    "y": {"field": "v", "type": "quantitative", "scale": {"domain": [-0.0101, 0.00525], "range": [853.3, 763.3], "nice": false, "zero": false}, "axis": {"orient": "left", "offset": -1182.7, "values": [0.005,0,-0.01], "format": ".3f", "tickSize": 3, "tickWidth": 1.2, "domainWidth": 1.2, "labelFontSize": 11.5, "labelPadding": 1, "title": "ΔA", "titleFontSize": 14, "titleAngle": 0, "titleX": -2, "titleY": 758}}},
   "layer": [
    {"data": {"name": "s10"}, "transform": [{"fold": ["a","b","c","d","e"], "as": ["k","v"]}], "mark": {"type": "line", "color": "#555555", "strokeWidth": 0.9}, "encoding": {"detail": {"field": "k"}}},
    {"data": {"name": "l10"}, "mark": {"type": "text", "fontWeight": "bold", "fontSize": 13.5}, "encoding": {"text": {"field": "t"}}}
   ]}
 ], "resolve": {"scale": {"x": "independent", "y": "independent"}, "axis": {"x": "independent", "y": "independent"}}}
],
"resolve": {"scale": {"x": "independent", "y": "independent"}, "axis": {"x": "independent", "y": "independent"}}
}
